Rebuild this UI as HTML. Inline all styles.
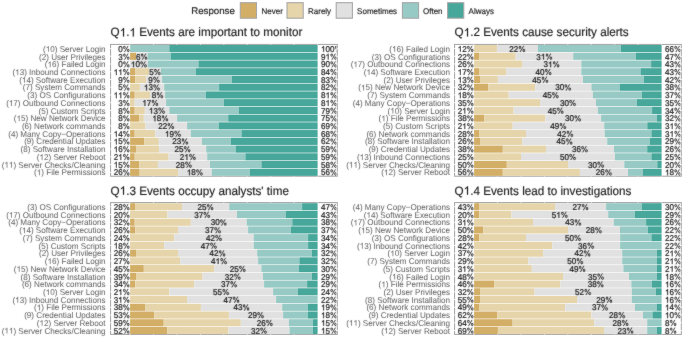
<!DOCTYPE html><html><head><meta charset="utf-8"><style>html,body{margin:0;padding:0;background:#fff;}svg{display:block;will-change:transform;}text{font-family:"Liberation Sans",sans-serif;text-rendering:geometricPrecision;font-kerning:none;font-feature-settings:"kern" 0;}.h1{fill-opacity:0;stroke-opacity:0}.lt,.lg,.tt{fill:#1A1A1A}.lb{fill:#5E5E5E}.pc{fill:#1A1A1A}.pc{stroke:#1a1a1a;stroke-width:0.22px}.lb{stroke:#5e5e5e;stroke-width:0.02px}.tt,.lg,.lt{stroke:#1a1a1a;stroke-width:0.16px}text,use{filter:url(#tb)}</style></head><body>
<svg width="685" height="337" viewBox="0 0 685 337">
<rect width="685" height="337" fill="#fff"/>
<defs><filter id="tb" x="-10%" y="-40%" width="120%" height="180%" color-interpolation-filters="sRGB"><feConvolveMatrix order="3" kernelMatrix="1 2 1 2 28 2 1 2 1" divisor="40" edgeMode="none"/></filter></defs>
<defs><path id="one1" vector-effect="non-scaling-stroke" d="M763 0H583V1098Q518 1039 412.5 979Q307 920 223 890V1057Q374 1125 487 1221Q600 1318 647 1409H763Z"/><path id="pct1" fill-rule="evenodd" vector-effect="non-scaling-stroke" d="M135 1075A285 345 0 1 0 705 1075A285 345 0 1 0 135 1075ZM280 1075A140 220 0 1 0 560 1075A140 220 0 1 0 280 1075ZM1115 335A285 345 0 1 0 1685 335A285 345 0 1 0 1115 335ZM1260 335A140 220 0 1 0 1540 335A140 220 0 1 0 1260 335ZM395 -20H545L1420 1425H1270Z"/></defs>
<text class="lt" x="191.2" y="13.9" font-size="9.7">Response</text>
<rect x="240.3" y="2.7" width="16.2" height="15.5" fill="#D3AE67" stroke="#A8A8A8" stroke-width="1.1"/>
<text class="lg" transform="matrix(1 0 0 1.04 261.5 13.9)" font-size="8">Never</text>
<rect x="287" y="2.7" width="16.2" height="15.5" fill="#E6D5AA" stroke="#A8A8A8" stroke-width="1.1"/>
<text class="lg" transform="matrix(1 0 0 1.04 308 13.9)" font-size="8">Rarely</text>
<rect x="336.2" y="2.7" width="16.2" height="15.5" fill="#E0E1E0" stroke="#A8A8A8" stroke-width="1.1"/>
<text class="lg" transform="matrix(1 0 0 1.04 357.1 13.9)" font-size="8">Sometimes</text>
<rect x="402.4" y="2.7" width="16.2" height="15.5" fill="#97CAC4" stroke="#A8A8A8" stroke-width="1.1"/>
<text class="lg" transform="matrix(1 0 0 1.04 423 13.9)" font-size="8">Often</text>
<rect x="447.6" y="2.7" width="16.2" height="15.5" fill="#47A79B" stroke="#A8A8A8" stroke-width="1.1"/>
<text class="lg" transform="matrix(1 0 0 1.04 468.6 13.9)" font-size="8">Always</text>
<g transform="translate(0,0)">
<text id="t1" class="tt" transform="matrix(1 0 0 1.04 110.6 36.45)" font-size="11.7">Q<tspan class="h1">1</tspan>.<tspan class="h1">1</tspan> Events are important to monitor</text><use href="#one1" class="tt" transform="matrix(0.00571 0 0 -0.00597 119.69 36.45)"/><use href="#one1" class="tt" transform="matrix(0.00571 0 0 -0.00597 129.46 36.45)"/>
<rect x="110.6" y="44.4" width="226.7" height="131.8" fill="#fff" stroke="#A3A3A3" stroke-width="1"/>
<line x1="130.1" y1="43.8" x2="130.1" y2="176.8" stroke="#fff" stroke-width="0.6"/>
<line x1="153.54" y1="43.8" x2="153.54" y2="176.8" stroke="#fff" stroke-width="0.6"/>
<line x1="176.97" y1="43.8" x2="176.97" y2="176.8" stroke="#fff" stroke-width="0.6"/>
<line x1="200.41" y1="43.8" x2="200.41" y2="176.8" stroke="#fff" stroke-width="0.6"/>
<line x1="223.85" y1="43.8" x2="223.85" y2="176.8" stroke="#fff" stroke-width="0.6"/>
<line x1="247.29" y1="43.8" x2="247.29" y2="176.8" stroke="#fff" stroke-width="0.6"/>
<line x1="270.73" y1="43.8" x2="270.73" y2="176.8" stroke="#fff" stroke-width="0.6"/>
<line x1="294.16" y1="43.8" x2="294.16" y2="176.8" stroke="#fff" stroke-width="0.6"/>
<line x1="317.6" y1="43.8" x2="317.6" y2="176.8" stroke="#fff" stroke-width="0.6"/>
<line x1="110" y1="48.55" x2="337.9" y2="48.55" stroke="#fff" stroke-width="0.9"/>
<line x1="110" y1="56.28" x2="337.9" y2="56.28" stroke="#fff" stroke-width="0.9"/>
<line x1="110" y1="64.02" x2="337.9" y2="64.02" stroke="#fff" stroke-width="0.9"/>
<line x1="110" y1="71.75" x2="337.9" y2="71.75" stroke="#fff" stroke-width="0.9"/>
<line x1="110" y1="79.49" x2="337.9" y2="79.49" stroke="#fff" stroke-width="0.9"/>
<line x1="110" y1="87.22" x2="337.9" y2="87.22" stroke="#fff" stroke-width="0.9"/>
<line x1="110" y1="94.96" x2="337.9" y2="94.96" stroke="#fff" stroke-width="0.9"/>
<line x1="110" y1="102.69" x2="337.9" y2="102.69" stroke="#fff" stroke-width="0.9"/>
<line x1="110" y1="110.43" x2="337.9" y2="110.43" stroke="#fff" stroke-width="0.9"/>
<line x1="110" y1="118.16" x2="337.9" y2="118.16" stroke="#fff" stroke-width="0.9"/>
<line x1="110" y1="125.89" x2="337.9" y2="125.89" stroke="#fff" stroke-width="0.9"/>
<line x1="110" y1="133.63" x2="337.9" y2="133.63" stroke="#fff" stroke-width="0.9"/>
<line x1="110" y1="141.36" x2="337.9" y2="141.36" stroke="#fff" stroke-width="0.9"/>
<line x1="110" y1="149.1" x2="337.9" y2="149.1" stroke="#fff" stroke-width="0.9"/>
<line x1="110" y1="156.83" x2="337.9" y2="156.83" stroke="#fff" stroke-width="0.9"/>
<line x1="110" y1="164.57" x2="337.9" y2="164.57" stroke="#fff" stroke-width="0.9"/>
<line x1="110" y1="172.3" x2="337.9" y2="172.3" stroke="#fff" stroke-width="0.9"/>
<rect x="130.1" y="44.99" width="39.2" height="7.12" fill="#97CAC4"/>
<rect x="169.3" y="44.99" width="148.3" height="7.12" fill="#47A79B"/>
<rect x="130.1" y="52.72" width="5.9" height="7.12" fill="#D3AE67"/>
<rect x="136" y="52.72" width="11.6" height="7.12" fill="#E0E1E0"/>
<rect x="147.6" y="52.72" width="23.1" height="7.12" fill="#97CAC4"/>
<rect x="170.7" y="52.72" width="146.9" height="7.12" fill="#47A79B"/>
<rect x="130.1" y="60.46" width="17.8" height="7.12" fill="#E0E1E0"/>
<rect x="147.9" y="60.46" width="50.6" height="7.12" fill="#97CAC4"/>
<rect x="198.5" y="60.46" width="119.1" height="7.12" fill="#47A79B"/>
<rect x="130.1" y="68.19" width="4.9" height="7.12" fill="#D3AE67"/>
<rect x="135" y="68.19" width="14.3" height="7.12" fill="#E6D5AA"/>
<rect x="149.3" y="68.19" width="11.6" height="7.12" fill="#E0E1E0"/>
<rect x="160.9" y="68.19" width="35.1" height="7.12" fill="#97CAC4"/>
<rect x="196" y="68.19" width="121.6" height="7.12" fill="#47A79B"/>
<rect x="130.1" y="75.93" width="5" height="7.12" fill="#D3AE67"/>
<rect x="135.1" y="75.93" width="11.1" height="7.12" fill="#E6D5AA"/>
<rect x="146.2" y="75.93" width="15.9" height="7.12" fill="#E0E1E0"/>
<rect x="162.1" y="75.93" width="69.9" height="7.12" fill="#97CAC4"/>
<rect x="232" y="75.93" width="85.6" height="7.12" fill="#47A79B"/>
<rect x="130.1" y="83.66" width="9.8" height="7.12" fill="#E6D5AA"/>
<rect x="139.9" y="83.66" width="24.3" height="7.12" fill="#E0E1E0"/>
<rect x="164.2" y="83.66" width="54.9" height="7.12" fill="#97CAC4"/>
<rect x="219.1" y="83.66" width="98.5" height="7.12" fill="#47A79B"/>
<rect x="130.1" y="91.4" width="4.6" height="7.12" fill="#D3AE67"/>
<rect x="134.7" y="91.4" width="15.4" height="7.12" fill="#E6D5AA"/>
<rect x="150.1" y="91.4" width="15" height="7.12" fill="#E0E1E0"/>
<rect x="165.1" y="91.4" width="40.7" height="7.12" fill="#97CAC4"/>
<rect x="205.8" y="91.4" width="111.8" height="7.12" fill="#47A79B"/>
<rect x="130.1" y="99.13" width="4.6" height="7.12" fill="#E6D5AA"/>
<rect x="134.7" y="99.13" width="31.4" height="7.12" fill="#E0E1E0"/>
<rect x="166.1" y="99.13" width="57.9" height="7.12" fill="#97CAC4"/>
<rect x="224" y="99.13" width="93.6" height="7.12" fill="#47A79B"/>
<rect x="130.1" y="106.87" width="4.6" height="7.12" fill="#D3AE67"/>
<rect x="134.7" y="106.87" width="10.1" height="7.12" fill="#E6D5AA"/>
<rect x="144.8" y="106.87" width="24.5" height="7.12" fill="#E0E1E0"/>
<rect x="169.3" y="106.87" width="69.4" height="7.12" fill="#97CAC4"/>
<rect x="238.7" y="106.87" width="78.9" height="7.12" fill="#47A79B"/>
<rect x="130.1" y="114.6" width="9.1" height="7.12" fill="#D3AE67"/>
<rect x="139.2" y="114.6" width="4.6" height="7.12" fill="#E6D5AA"/>
<rect x="143.8" y="114.6" width="33.3" height="7.12" fill="#E0E1E0"/>
<rect x="177.1" y="114.6" width="51.1" height="7.12" fill="#97CAC4"/>
<rect x="228.2" y="114.6" width="89.4" height="7.12" fill="#47A79B"/>
<rect x="130.1" y="122.33" width="15.4" height="7.12" fill="#E6D5AA"/>
<rect x="145.5" y="122.33" width="41.6" height="7.12" fill="#E0E1E0"/>
<rect x="187.1" y="122.33" width="31.7" height="7.12" fill="#97CAC4"/>
<rect x="218.8" y="122.33" width="98.8" height="7.12" fill="#47A79B"/>
<rect x="130.1" y="130.07" width="4.6" height="7.12" fill="#D3AE67"/>
<rect x="134.7" y="130.07" width="20.6" height="7.12" fill="#E6D5AA"/>
<rect x="155.3" y="130.07" width="35.5" height="7.12" fill="#E0E1E0"/>
<rect x="190.8" y="130.07" width="50.7" height="7.12" fill="#97CAC4"/>
<rect x="241.5" y="130.07" width="76.1" height="7.12" fill="#47A79B"/>
<rect x="130.1" y="137.8" width="14" height="7.12" fill="#D3AE67"/>
<rect x="144.1" y="137.8" width="14.7" height="7.12" fill="#E6D5AA"/>
<rect x="158.8" y="137.8" width="43.2" height="7.12" fill="#E0E1E0"/>
<rect x="202" y="137.8" width="29" height="7.12" fill="#97CAC4"/>
<rect x="231" y="137.8" width="86.6" height="7.12" fill="#47A79B"/>
<rect x="130.1" y="145.54" width="5.9" height="7.12" fill="#D3AE67"/>
<rect x="136" y="145.54" width="23.1" height="7.12" fill="#E6D5AA"/>
<rect x="159.1" y="145.54" width="47.1" height="7.12" fill="#E0E1E0"/>
<rect x="206.2" y="145.54" width="29.4" height="7.12" fill="#97CAC4"/>
<rect x="235.6" y="145.54" width="82" height="7.12" fill="#47A79B"/>
<rect x="130.1" y="153.27" width="4.6" height="7.12" fill="#D3AE67"/>
<rect x="134.7" y="153.27" width="33.9" height="7.12" fill="#E6D5AA"/>
<rect x="168.6" y="153.27" width="38.6" height="7.12" fill="#E0E1E0"/>
<rect x="207.2" y="153.27" width="38.2" height="7.12" fill="#97CAC4"/>
<rect x="245.4" y="153.27" width="72.2" height="7.12" fill="#47A79B"/>
<rect x="130.1" y="161.01" width="9.1" height="7.12" fill="#D3AE67"/>
<rect x="139.2" y="161.01" width="18.7" height="7.12" fill="#E6D5AA"/>
<rect x="157.9" y="161.01" width="52.1" height="7.12" fill="#E0E1E0"/>
<rect x="210" y="161.01" width="51.4" height="7.12" fill="#97CAC4"/>
<rect x="261.4" y="161.01" width="56.2" height="7.12" fill="#47A79B"/>
<rect x="130.1" y="168.74" width="9.5" height="7.12" fill="#D3AE67"/>
<rect x="139.6" y="168.74" width="38.4" height="7.12" fill="#E6D5AA"/>
<rect x="178" y="168.74" width="33.8" height="7.12" fill="#E0E1E0"/>
<rect x="211.8" y="168.74" width="38.1" height="7.12" fill="#97CAC4"/>
<rect x="249.9" y="168.74" width="67.7" height="7.12" fill="#47A79B"/>
<defs><clipPath id="cp0"><rect x="110.6" y="44.4" width="225.8" height="131.8"/></clipPath></defs>
<text id="t2" class="lb" transform="matrix(1 0 0 1.04 105.6 51.85)" font-size="8.1" text-anchor="end">(<tspan class="h1">1</tspan>0) Server Login</text><use href="#one1" class="lb" transform="matrix(0.00396 0 0 -0.00413 45.74 51.85)"/>
<g clip-path="url(#cp0)">
<text id="t3" class="pc" transform="matrix(1 0 0 1.05 129.9 51.85)" font-size="8.1" text-anchor="end">0<tspan class="h1">%</tspan></text><use href="#pct1" class="pc" transform="matrix(0.00396 0 0 -0.00415 122.7 51.85)"/>
<text id="t4" class="pc" transform="matrix(1 0 0 1.05 321 51.85)" font-size="8.1"><tspan class="h1">1</tspan>00<tspan class="h1">%</tspan></text><use href="#one1" class="pc" transform="matrix(0.00396 0 0 -0.00415 321 51.85)"/><use href="#pct1" class="pc" transform="matrix(0.00396 0 0 -0.00415 334.53 51.85)"/>
</g>
<text class="lb" transform="matrix(1 0 0 1.04 105.6 59.57)" font-size="8.1" text-anchor="end">(2) User Privileges</text>
<g clip-path="url(#cp0)">
<text id="t5" class="pc" transform="matrix(1 0 0 1.05 129.9 59.57)" font-size="8.1" text-anchor="end">3<tspan class="h1">%</tspan></text><use href="#pct1" class="pc" transform="matrix(0.00396 0 0 -0.00415 122.7 59.57)"/>
<text id="t6" class="pc" transform="matrix(1 0 0 1.05 141.8 59.57)" font-size="8.1" text-anchor="middle">6<tspan class="h1">%</tspan></text><use href="#pct1" class="pc" transform="matrix(0.00396 0 0 -0.00415 140.46 59.57)"/>
<text id="t7" class="pc" transform="matrix(1 0 0 1.05 321 59.57)" font-size="8.1">9<tspan class="h1">1</tspan><tspan class="h1">%</tspan></text><use href="#one1" class="pc" transform="matrix(0.00396 0 0 -0.00415 325.52 59.57)"/><use href="#pct1" class="pc" transform="matrix(0.00396 0 0 -0.00415 330.03 59.57)"/>
</g>
<text id="t8" class="lb" transform="matrix(1 0 0 1.04 105.6 67.29)" font-size="8.1" text-anchor="end">(<tspan class="h1">1</tspan>6) Failed Login</text><use href="#one1" class="lb" transform="matrix(0.00396 0 0 -0.00413 47.54 67.29)"/>
<g clip-path="url(#cp0)">
<text id="t9" class="pc" transform="matrix(1 0 0 1.05 129.9 67.29)" font-size="8.1" text-anchor="end">0<tspan class="h1">%</tspan></text><use href="#pct1" class="pc" transform="matrix(0.00396 0 0 -0.00415 122.7 67.29)"/>
<text id="t10" class="pc" transform="matrix(1 0 0 1.05 139 67.29)" font-size="8.1" text-anchor="middle"><tspan class="h1">1</tspan>0<tspan class="h1">%</tspan></text><use href="#one1" class="pc" transform="matrix(0.00396 0 0 -0.00415 130.88 67.29)"/><use href="#pct1" class="pc" transform="matrix(0.00396 0 0 -0.00415 139.91 67.29)"/>
<text id="t11" class="pc" transform="matrix(1 0 0 1.05 321 67.29)" font-size="8.1">90<tspan class="h1">%</tspan></text><use href="#pct1" class="pc" transform="matrix(0.00396 0 0 -0.00415 330.02 67.29)"/>
</g>
<text id="t12" class="lb" transform="matrix(1 0 0 1.04 105.6 75.01)" font-size="8.1" text-anchor="end">(<tspan class="h1">1</tspan>3) Inbound Connections</text><use href="#one1" class="lb" transform="matrix(0.00396 0 0 -0.00413 15.13 75.01)"/>
<g clip-path="url(#cp0)">
<text id="t13" class="pc" transform="matrix(1 0 0 1.05 129.9 75.01)" font-size="8.1" text-anchor="end"><tspan class="h1">1</tspan><tspan class="h1">1</tspan><tspan class="h1">%</tspan></text><use href="#one1" class="pc" transform="matrix(0.00396 0 0 -0.00415 113.67 75.01)"/><use href="#one1" class="pc" transform="matrix(0.00396 0 0 -0.00415 118.18 75.01)"/><use href="#pct1" class="pc" transform="matrix(0.00396 0 0 -0.00415 122.7 75.01)"/>
<text id="t14" class="pc" transform="matrix(1 0 0 1.05 155.1 75.01)" font-size="8.1" text-anchor="middle">5<tspan class="h1">%</tspan></text><use href="#pct1" class="pc" transform="matrix(0.00396 0 0 -0.00415 153.76 75.01)"/>
<text id="t15" class="pc" transform="matrix(1 0 0 1.05 321 75.01)" font-size="8.1">84<tspan class="h1">%</tspan></text><use href="#pct1" class="pc" transform="matrix(0.00396 0 0 -0.00415 330.02 75.01)"/>
</g>
<text id="t16" class="lb" transform="matrix(1 0 0 1.04 105.6 82.73)" font-size="8.1" text-anchor="end">(<tspan class="h1">1</tspan>4) Software Execution</text><use href="#one1" class="lb" transform="matrix(0.00396 0 0 -0.00413 21.9 82.73)"/>
<g clip-path="url(#cp0)">
<text id="t17" class="pc" transform="matrix(1 0 0 1.05 129.9 82.73)" font-size="8.1" text-anchor="end">9<tspan class="h1">%</tspan></text><use href="#pct1" class="pc" transform="matrix(0.00396 0 0 -0.00415 122.7 82.73)"/>
<text id="t18" class="pc" transform="matrix(1 0 0 1.05 154.15 82.73)" font-size="8.1" text-anchor="middle">9<tspan class="h1">%</tspan></text><use href="#pct1" class="pc" transform="matrix(0.00396 0 0 -0.00415 152.81 82.73)"/>
<text id="t19" class="pc" transform="matrix(1 0 0 1.05 321 82.73)" font-size="8.1">83<tspan class="h1">%</tspan></text><use href="#pct1" class="pc" transform="matrix(0.00396 0 0 -0.00415 330.02 82.73)"/>
</g>
<text class="lb" transform="matrix(1 0 0 1.04 105.6 90.45)" font-size="8.1" text-anchor="end">(7) System Commands</text>
<g clip-path="url(#cp0)">
<text id="t20" class="pc" transform="matrix(1 0 0 1.05 129.9 90.45)" font-size="8.1" text-anchor="end">5<tspan class="h1">%</tspan></text><use href="#pct1" class="pc" transform="matrix(0.00396 0 0 -0.00415 122.7 90.45)"/>
<text id="t21" class="pc" transform="matrix(1 0 0 1.05 152.05 90.45)" font-size="8.1" text-anchor="middle"><tspan class="h1">1</tspan>3<tspan class="h1">%</tspan></text><use href="#one1" class="pc" transform="matrix(0.00396 0 0 -0.00415 143.93 90.45)"/><use href="#pct1" class="pc" transform="matrix(0.00396 0 0 -0.00415 152.96 90.45)"/>
<text id="t22" class="pc" transform="matrix(1 0 0 1.05 321 90.45)" font-size="8.1">82<tspan class="h1">%</tspan></text><use href="#pct1" class="pc" transform="matrix(0.00396 0 0 -0.00415 330.02 90.45)"/>
</g>
<text class="lb" transform="matrix(1 0 0 1.04 105.6 98.17)" font-size="8.1" text-anchor="end">(3) OS Configurations</text>
<g clip-path="url(#cp0)">
<text id="t23" class="pc" transform="matrix(1 0 0 1.05 129.9 98.17)" font-size="8.1" text-anchor="end"><tspan class="h1">1</tspan><tspan class="h1">1</tspan><tspan class="h1">%</tspan></text><use href="#one1" class="pc" transform="matrix(0.00396 0 0 -0.00415 113.67 98.17)"/><use href="#one1" class="pc" transform="matrix(0.00396 0 0 -0.00415 118.18 98.17)"/><use href="#pct1" class="pc" transform="matrix(0.00396 0 0 -0.00415 122.7 98.17)"/>
<text id="t24" class="pc" transform="matrix(1 0 0 1.05 157.6 98.17)" font-size="8.1" text-anchor="middle">8<tspan class="h1">%</tspan></text><use href="#pct1" class="pc" transform="matrix(0.00396 0 0 -0.00415 156.26 98.17)"/>
<text id="t25" class="pc" transform="matrix(1 0 0 1.05 321 98.17)" font-size="8.1">8<tspan class="h1">1</tspan><tspan class="h1">%</tspan></text><use href="#one1" class="pc" transform="matrix(0.00396 0 0 -0.00415 325.52 98.17)"/><use href="#pct1" class="pc" transform="matrix(0.00396 0 0 -0.00415 330.03 98.17)"/>
</g>
<text id="t26" class="lb" transform="matrix(1 0 0 1.04 105.6 105.89)" font-size="8.1" text-anchor="end">(<tspan class="h1">1</tspan>7) Outbound Connections</text><use href="#one1" class="lb" transform="matrix(0.00396 0 0 -0.00413 8.83 105.89)"/>
<g clip-path="url(#cp0)">
<text id="t27" class="pc" transform="matrix(1 0 0 1.05 129.9 105.89)" font-size="8.1" text-anchor="end">3<tspan class="h1">%</tspan></text><use href="#pct1" class="pc" transform="matrix(0.00396 0 0 -0.00415 122.7 105.89)"/>
<text id="t28" class="pc" transform="matrix(1 0 0 1.05 150.4 105.89)" font-size="8.1" text-anchor="middle"><tspan class="h1">1</tspan>7<tspan class="h1">%</tspan></text><use href="#one1" class="pc" transform="matrix(0.00396 0 0 -0.00415 142.28 105.89)"/><use href="#pct1" class="pc" transform="matrix(0.00396 0 0 -0.00415 151.31 105.89)"/>
<text id="t29" class="pc" transform="matrix(1 0 0 1.05 321 105.89)" font-size="8.1">8<tspan class="h1">1</tspan><tspan class="h1">%</tspan></text><use href="#one1" class="pc" transform="matrix(0.00396 0 0 -0.00415 325.52 105.89)"/><use href="#pct1" class="pc" transform="matrix(0.00396 0 0 -0.00415 330.03 105.89)"/>
</g>
<text class="lb" transform="matrix(1 0 0 1.04 105.6 113.61)" font-size="8.1" text-anchor="end">(5) Custom Scripts</text>
<g clip-path="url(#cp0)">
<text id="t30" class="pc" transform="matrix(1 0 0 1.05 129.9 113.61)" font-size="8.1" text-anchor="end">8<tspan class="h1">%</tspan></text><use href="#pct1" class="pc" transform="matrix(0.00396 0 0 -0.00415 122.7 113.61)"/>
<text id="t31" class="pc" transform="matrix(1 0 0 1.05 157.05 113.61)" font-size="8.1" text-anchor="middle"><tspan class="h1">1</tspan>3<tspan class="h1">%</tspan></text><use href="#one1" class="pc" transform="matrix(0.00396 0 0 -0.00415 148.93 113.61)"/><use href="#pct1" class="pc" transform="matrix(0.00396 0 0 -0.00415 157.96 113.61)"/>
<text id="t32" class="pc" transform="matrix(1 0 0 1.05 321 113.61)" font-size="8.1">79<tspan class="h1">%</tspan></text><use href="#pct1" class="pc" transform="matrix(0.00396 0 0 -0.00415 330.02 113.61)"/>
</g>
<text id="t33" class="lb" transform="matrix(1 0 0 1.04 105.6 121.33)" font-size="8.1" text-anchor="end">(<tspan class="h1">1</tspan>5) New Network Device</text><use href="#one1" class="lb" transform="matrix(0.00396 0 0 -0.00413 16.52 121.33)"/>
<g clip-path="url(#cp0)">
<text id="t34" class="pc" transform="matrix(1 0 0 1.05 129.9 121.33)" font-size="8.1" text-anchor="end">8<tspan class="h1">%</tspan></text><use href="#pct1" class="pc" transform="matrix(0.00396 0 0 -0.00415 122.7 121.33)"/>
<text id="t35" class="pc" transform="matrix(1 0 0 1.05 160.45 121.33)" font-size="8.1" text-anchor="middle"><tspan class="h1">1</tspan>8<tspan class="h1">%</tspan></text><use href="#one1" class="pc" transform="matrix(0.00396 0 0 -0.00415 152.33 121.33)"/><use href="#pct1" class="pc" transform="matrix(0.00396 0 0 -0.00415 161.36 121.33)"/>
<text id="t36" class="pc" transform="matrix(1 0 0 1.05 321 121.33)" font-size="8.1">75<tspan class="h1">%</tspan></text><use href="#pct1" class="pc" transform="matrix(0.00396 0 0 -0.00415 330.02 121.33)"/>
</g>
<text class="lb" transform="matrix(1 0 0 1.04 105.6 129.05)" font-size="8.1" text-anchor="end">(6) Network commands</text>
<g clip-path="url(#cp0)">
<text id="t37" class="pc" transform="matrix(1 0 0 1.05 129.9 129.05)" font-size="8.1" text-anchor="end">8<tspan class="h1">%</tspan></text><use href="#pct1" class="pc" transform="matrix(0.00396 0 0 -0.00415 122.7 129.05)"/>
<text id="t38" class="pc" transform="matrix(1 0 0 1.05 166.3 129.05)" font-size="8.1" text-anchor="middle">22<tspan class="h1">%</tspan></text><use href="#pct1" class="pc" transform="matrix(0.00396 0 0 -0.00415 167.21 129.05)"/>
<text id="t39" class="pc" transform="matrix(1 0 0 1.05 321 129.05)" font-size="8.1">69<tspan class="h1">%</tspan></text><use href="#pct1" class="pc" transform="matrix(0.00396 0 0 -0.00415 330.02 129.05)"/>
</g>
<text class="lb" transform="matrix(1 0 0 1.04 105.6 136.77)" font-size="8.1" text-anchor="end">(4) Many Copy−Operations</text>
<g clip-path="url(#cp0)">
<text id="t40" class="pc" transform="matrix(1 0 0 1.05 129.9 136.77)" font-size="8.1" text-anchor="end"><tspan class="h1">1</tspan>4<tspan class="h1">%</tspan></text><use href="#one1" class="pc" transform="matrix(0.00396 0 0 -0.00415 113.67 136.77)"/><use href="#pct1" class="pc" transform="matrix(0.00396 0 0 -0.00415 122.7 136.77)"/>
<text id="t41" class="pc" transform="matrix(1 0 0 1.05 173.05 136.77)" font-size="8.1" text-anchor="middle"><tspan class="h1">1</tspan>9<tspan class="h1">%</tspan></text><use href="#one1" class="pc" transform="matrix(0.00396 0 0 -0.00415 164.93 136.77)"/><use href="#pct1" class="pc" transform="matrix(0.00396 0 0 -0.00415 173.96 136.77)"/>
<text id="t42" class="pc" transform="matrix(1 0 0 1.05 321 136.77)" font-size="8.1">68<tspan class="h1">%</tspan></text><use href="#pct1" class="pc" transform="matrix(0.00396 0 0 -0.00415 330.02 136.77)"/>
</g>
<text class="lb" transform="matrix(1 0 0 1.04 105.6 144.49)" font-size="8.1" text-anchor="end">(9) Credential Updates</text>
<g clip-path="url(#cp0)">
<text id="t43" class="pc" transform="matrix(1 0 0 1.05 129.9 144.49)" font-size="8.1" text-anchor="end"><tspan class="h1">1</tspan>5<tspan class="h1">%</tspan></text><use href="#one1" class="pc" transform="matrix(0.00396 0 0 -0.00415 113.67 144.49)"/><use href="#pct1" class="pc" transform="matrix(0.00396 0 0 -0.00415 122.7 144.49)"/>
<text id="t44" class="pc" transform="matrix(1 0 0 1.05 180.4 144.49)" font-size="8.1" text-anchor="middle">23<tspan class="h1">%</tspan></text><use href="#pct1" class="pc" transform="matrix(0.00396 0 0 -0.00415 181.31 144.49)"/>
<text id="t45" class="pc" transform="matrix(1 0 0 1.05 321 144.49)" font-size="8.1">62<tspan class="h1">%</tspan></text><use href="#pct1" class="pc" transform="matrix(0.00396 0 0 -0.00415 330.02 144.49)"/>
</g>
<text class="lb" transform="matrix(1 0 0 1.04 105.6 152.21)" font-size="8.1" text-anchor="end">(8) Software Installation</text>
<g clip-path="url(#cp0)">
<text id="t46" class="pc" transform="matrix(1 0 0 1.05 129.9 152.21)" font-size="8.1" text-anchor="end"><tspan class="h1">1</tspan>6<tspan class="h1">%</tspan></text><use href="#one1" class="pc" transform="matrix(0.00396 0 0 -0.00415 113.67 152.21)"/><use href="#pct1" class="pc" transform="matrix(0.00396 0 0 -0.00415 122.7 152.21)"/>
<text id="t47" class="pc" transform="matrix(1 0 0 1.05 182.65 152.21)" font-size="8.1" text-anchor="middle">25<tspan class="h1">%</tspan></text><use href="#pct1" class="pc" transform="matrix(0.00396 0 0 -0.00415 183.56 152.21)"/>
<text id="t48" class="pc" transform="matrix(1 0 0 1.05 321 152.21)" font-size="8.1">59<tspan class="h1">%</tspan></text><use href="#pct1" class="pc" transform="matrix(0.00396 0 0 -0.00415 330.02 152.21)"/>
</g>
<text id="t49" class="lb" transform="matrix(1 0 0 1.04 105.6 159.93)" font-size="8.1" text-anchor="end">(<tspan class="h1">1</tspan>2) Server Reboot</text><use href="#one1" class="lb" transform="matrix(0.00396 0 0 -0.00413 39.44 159.93)"/>
<g clip-path="url(#cp0)">
<text id="t50" class="pc" transform="matrix(1 0 0 1.05 129.9 159.93)" font-size="8.1" text-anchor="end">2<tspan class="h1">1</tspan><tspan class="h1">%</tspan></text><use href="#one1" class="pc" transform="matrix(0.00396 0 0 -0.00415 118.18 159.93)"/><use href="#pct1" class="pc" transform="matrix(0.00396 0 0 -0.00415 122.7 159.93)"/>
<text id="t51" class="pc" transform="matrix(1 0 0 1.05 187.9 159.93)" font-size="8.1" text-anchor="middle">2<tspan class="h1">1</tspan><tspan class="h1">%</tspan></text><use href="#one1" class="pc" transform="matrix(0.00396 0 0 -0.00415 184.3 159.93)"/><use href="#pct1" class="pc" transform="matrix(0.00396 0 0 -0.00415 188.81 159.93)"/>
<text id="t52" class="pc" transform="matrix(1 0 0 1.05 321 159.93)" font-size="8.1">59<tspan class="h1">%</tspan></text><use href="#pct1" class="pc" transform="matrix(0.00396 0 0 -0.00415 330.02 159.93)"/>
</g>
<text id="t53" class="lb" transform="matrix(1 0 0 1.04 105.6 167.65)" font-size="8.1" text-anchor="end">(<tspan class="h1">1</tspan><tspan class="h1">1</tspan>) Server Checks/Cleaning</text><use href="#one1" class="lb" transform="matrix(0.00396 0 0 -0.00413 4.35 167.65)"/><use href="#one1" class="lb" transform="matrix(0.00396 0 0 -0.00413 8.87 167.65)"/>
<g clip-path="url(#cp0)">
<text id="t54" class="pc" transform="matrix(1 0 0 1.05 129.9 167.65)" font-size="8.1" text-anchor="end"><tspan class="h1">1</tspan>5<tspan class="h1">%</tspan></text><use href="#one1" class="pc" transform="matrix(0.00396 0 0 -0.00415 113.67 167.65)"/><use href="#pct1" class="pc" transform="matrix(0.00396 0 0 -0.00415 122.7 167.65)"/>
<text id="t55" class="pc" transform="matrix(1 0 0 1.05 183.95 167.65)" font-size="8.1" text-anchor="middle">28<tspan class="h1">%</tspan></text><use href="#pct1" class="pc" transform="matrix(0.00396 0 0 -0.00415 184.86 167.65)"/>
<text id="t56" class="pc" transform="matrix(1 0 0 1.05 321 167.65)" font-size="8.1">58<tspan class="h1">%</tspan></text><use href="#pct1" class="pc" transform="matrix(0.00396 0 0 -0.00415 330.02 167.65)"/>
</g>
<text id="t57" class="lb" transform="matrix(1 0 0 1.04 105.6 175.37)" font-size="8.1" text-anchor="end">(<tspan class="h1">1</tspan>) File Permissions</text><use href="#one1" class="lb" transform="matrix(0.00396 0 0 -0.00413 36.77 175.37)"/>
<g clip-path="url(#cp0)">
<text id="t58" class="pc" transform="matrix(1 0 0 1.05 129.9 175.37)" font-size="8.1" text-anchor="end">26<tspan class="h1">%</tspan></text><use href="#pct1" class="pc" transform="matrix(0.00396 0 0 -0.00415 122.7 175.37)"/>
<text id="t59" class="pc" transform="matrix(1 0 0 1.05 194.9 175.37)" font-size="8.1" text-anchor="middle"><tspan class="h1">1</tspan>8<tspan class="h1">%</tspan></text><use href="#one1" class="pc" transform="matrix(0.00396 0 0 -0.00415 186.78 175.37)"/><use href="#pct1" class="pc" transform="matrix(0.00396 0 0 -0.00415 195.81 175.37)"/>
<text id="t60" class="pc" transform="matrix(1 0 0 1.05 321 175.37)" font-size="8.1">56<tspan class="h1">%</tspan></text><use href="#pct1" class="pc" transform="matrix(0.00396 0 0 -0.00415 330.02 175.37)"/>
</g>
</g>
<g transform="translate(344,0)">
<text id="t61" class="tt" transform="matrix(1 0 0 1.04 110.6 36.45)" font-size="11.7">Q<tspan class="h1">1</tspan>.2 Events cause security alerts</text><use href="#one1" class="tt" transform="matrix(0.00571 0 0 -0.00597 119.69 36.45)"/>
<rect x="110.6" y="44.4" width="226.7" height="131.8" fill="#fff" stroke="#A3A3A3" stroke-width="1"/>
<line x1="130.1" y1="43.8" x2="130.1" y2="176.8" stroke="#fff" stroke-width="0.6"/>
<line x1="153.54" y1="43.8" x2="153.54" y2="176.8" stroke="#fff" stroke-width="0.6"/>
<line x1="176.97" y1="43.8" x2="176.97" y2="176.8" stroke="#fff" stroke-width="0.6"/>
<line x1="200.41" y1="43.8" x2="200.41" y2="176.8" stroke="#fff" stroke-width="0.6"/>
<line x1="223.85" y1="43.8" x2="223.85" y2="176.8" stroke="#fff" stroke-width="0.6"/>
<line x1="247.29" y1="43.8" x2="247.29" y2="176.8" stroke="#fff" stroke-width="0.6"/>
<line x1="270.73" y1="43.8" x2="270.73" y2="176.8" stroke="#fff" stroke-width="0.6"/>
<line x1="294.16" y1="43.8" x2="294.16" y2="176.8" stroke="#fff" stroke-width="0.6"/>
<line x1="317.6" y1="43.8" x2="317.6" y2="176.8" stroke="#fff" stroke-width="0.6"/>
<line x1="110" y1="48.55" x2="337.9" y2="48.55" stroke="#fff" stroke-width="0.9"/>
<line x1="110" y1="56.28" x2="337.9" y2="56.28" stroke="#fff" stroke-width="0.9"/>
<line x1="110" y1="64.02" x2="337.9" y2="64.02" stroke="#fff" stroke-width="0.9"/>
<line x1="110" y1="71.75" x2="337.9" y2="71.75" stroke="#fff" stroke-width="0.9"/>
<line x1="110" y1="79.49" x2="337.9" y2="79.49" stroke="#fff" stroke-width="0.9"/>
<line x1="110" y1="87.22" x2="337.9" y2="87.22" stroke="#fff" stroke-width="0.9"/>
<line x1="110" y1="94.96" x2="337.9" y2="94.96" stroke="#fff" stroke-width="0.9"/>
<line x1="110" y1="102.69" x2="337.9" y2="102.69" stroke="#fff" stroke-width="0.9"/>
<line x1="110" y1="110.43" x2="337.9" y2="110.43" stroke="#fff" stroke-width="0.9"/>
<line x1="110" y1="118.16" x2="337.9" y2="118.16" stroke="#fff" stroke-width="0.9"/>
<line x1="110" y1="125.89" x2="337.9" y2="125.89" stroke="#fff" stroke-width="0.9"/>
<line x1="110" y1="133.63" x2="337.9" y2="133.63" stroke="#fff" stroke-width="0.9"/>
<line x1="110" y1="141.36" x2="337.9" y2="141.36" stroke="#fff" stroke-width="0.9"/>
<line x1="110" y1="149.1" x2="337.9" y2="149.1" stroke="#fff" stroke-width="0.9"/>
<line x1="110" y1="156.83" x2="337.9" y2="156.83" stroke="#fff" stroke-width="0.9"/>
<line x1="110" y1="164.57" x2="337.9" y2="164.57" stroke="#fff" stroke-width="0.9"/>
<line x1="110" y1="172.3" x2="337.9" y2="172.3" stroke="#fff" stroke-width="0.9"/>
<rect x="130.1" y="44.99" width="22.8" height="7.12" fill="#E6D5AA"/>
<rect x="152.9" y="44.99" width="41" height="7.12" fill="#E0E1E0"/>
<rect x="193.9" y="44.99" width="82.9" height="7.12" fill="#97CAC4"/>
<rect x="276.8" y="44.99" width="40.8" height="7.12" fill="#47A79B"/>
<rect x="130.1" y="52.72" width="4.9" height="7.12" fill="#D3AE67"/>
<rect x="135" y="52.72" width="36.7" height="7.12" fill="#E6D5AA"/>
<rect x="171.7" y="52.72" width="57.5" height="7.12" fill="#E0E1E0"/>
<rect x="229.2" y="52.72" width="62.8" height="7.12" fill="#97CAC4"/>
<rect x="292" y="52.72" width="25.6" height="7.12" fill="#47A79B"/>
<rect x="130.1" y="60.46" width="47.9" height="7.12" fill="#E6D5AA"/>
<rect x="178" y="60.46" width="59.3" height="7.12" fill="#E0E1E0"/>
<rect x="237.3" y="60.46" width="69.8" height="7.12" fill="#97CAC4"/>
<rect x="307.1" y="60.46" width="10.5" height="7.12" fill="#47A79B"/>
<rect x="130.1" y="68.19" width="4.9" height="7.12" fill="#D3AE67"/>
<rect x="135" y="68.19" width="27.1" height="7.12" fill="#E6D5AA"/>
<rect x="162.1" y="68.19" width="75.2" height="7.12" fill="#E0E1E0"/>
<rect x="237.3" y="68.19" width="59.2" height="7.12" fill="#97CAC4"/>
<rect x="296.5" y="68.19" width="21.1" height="7.12" fill="#47A79B"/>
<rect x="130.1" y="75.93" width="5.9" height="7.12" fill="#D3AE67"/>
<rect x="136" y="75.93" width="17.9" height="7.12" fill="#E6D5AA"/>
<rect x="153.9" y="75.93" width="85.1" height="7.12" fill="#E0E1E0"/>
<rect x="239" y="75.93" width="60.8" height="7.12" fill="#97CAC4"/>
<rect x="299.8" y="75.93" width="17.8" height="7.12" fill="#47A79B"/>
<rect x="130.1" y="83.66" width="14" height="7.12" fill="#D3AE67"/>
<rect x="144.1" y="83.66" width="47" height="7.12" fill="#E6D5AA"/>
<rect x="191.1" y="83.66" width="56.3" height="7.12" fill="#E0E1E0"/>
<rect x="247.4" y="83.66" width="28.2" height="7.12" fill="#97CAC4"/>
<rect x="275.6" y="83.66" width="42" height="7.12" fill="#47A79B"/>
<rect x="130.1" y="91.4" width="34.6" height="7.12" fill="#E6D5AA"/>
<rect x="164.7" y="91.4" width="84.2" height="7.12" fill="#E0E1E0"/>
<rect x="248.9" y="91.4" width="49.1" height="7.12" fill="#97CAC4"/>
<rect x="298" y="91.4" width="19.6" height="7.12" fill="#47A79B"/>
<rect x="130.1" y="99.13" width="65.9" height="7.12" fill="#E6D5AA"/>
<rect x="196" y="99.13" width="56" height="7.12" fill="#E0E1E0"/>
<rect x="252" y="99.13" width="40.7" height="7.12" fill="#97CAC4"/>
<rect x="292.7" y="99.13" width="24.9" height="7.12" fill="#47A79B"/>
<rect x="130.1" y="106.87" width="39.5" height="7.12" fill="#E6D5AA"/>
<rect x="169.6" y="106.87" width="84.3" height="7.12" fill="#E0E1E0"/>
<rect x="253.9" y="106.87" width="54.2" height="7.12" fill="#97CAC4"/>
<rect x="308.1" y="106.87" width="9.5" height="7.12" fill="#47A79B"/>
<rect x="130.1" y="114.6" width="10.1" height="7.12" fill="#D3AE67"/>
<rect x="140.2" y="114.6" width="61" height="7.12" fill="#E6D5AA"/>
<rect x="201.2" y="114.6" width="55.9" height="7.12" fill="#E0E1E0"/>
<rect x="257.1" y="114.6" width="55.9" height="7.12" fill="#97CAC4"/>
<rect x="313" y="114.6" width="4.6" height="7.12" fill="#47A79B"/>
<rect x="130.1" y="122.33" width="38.5" height="7.12" fill="#E6D5AA"/>
<rect x="168.6" y="122.33" width="91.6" height="7.12" fill="#E0E1E0"/>
<rect x="260.2" y="122.33" width="43.1" height="7.12" fill="#97CAC4"/>
<rect x="303.3" y="122.33" width="14.3" height="7.12" fill="#47A79B"/>
<rect x="130.1" y="130.07" width="4.9" height="7.12" fill="#D3AE67"/>
<rect x="135" y="130.07" width="47" height="7.12" fill="#E6D5AA"/>
<rect x="182" y="130.07" width="78.7" height="7.12" fill="#E0E1E0"/>
<rect x="260.7" y="130.07" width="46.7" height="7.12" fill="#97CAC4"/>
<rect x="307.4" y="130.07" width="10.2" height="7.12" fill="#47A79B"/>
<rect x="130.1" y="137.8" width="5.9" height="7.12" fill="#D3AE67"/>
<rect x="136" y="137.8" width="42.2" height="7.12" fill="#E6D5AA"/>
<rect x="178.2" y="137.8" width="85" height="7.12" fill="#E0E1E0"/>
<rect x="263.2" y="137.8" width="42.8" height="7.12" fill="#97CAC4"/>
<rect x="306" y="137.8" width="11.6" height="7.12" fill="#47A79B"/>
<rect x="130.1" y="145.54" width="28.7" height="7.12" fill="#D3AE67"/>
<rect x="158.8" y="145.54" width="43.2" height="7.12" fill="#E6D5AA"/>
<rect x="202" y="145.54" width="68" height="7.12" fill="#E0E1E0"/>
<rect x="270" y="145.54" width="33.2" height="7.12" fill="#97CAC4"/>
<rect x="303.2" y="145.54" width="14.4" height="7.12" fill="#47A79B"/>
<rect x="130.1" y="153.27" width="46.9" height="7.12" fill="#E6D5AA"/>
<rect x="177" y="153.27" width="94" height="7.12" fill="#E0E1E0"/>
<rect x="271" y="153.27" width="36.4" height="7.12" fill="#97CAC4"/>
<rect x="307.4" y="153.27" width="10.2" height="7.12" fill="#47A79B"/>
<rect x="130.1" y="161.01" width="32.7" height="7.12" fill="#D3AE67"/>
<rect x="162.8" y="161.01" width="61.2" height="7.12" fill="#E6D5AA"/>
<rect x="224" y="161.01" width="56.3" height="7.12" fill="#E0E1E0"/>
<rect x="280.3" y="161.01" width="33" height="7.12" fill="#97CAC4"/>
<rect x="313.3" y="161.01" width="4.3" height="7.12" fill="#47A79B"/>
<rect x="130.1" y="168.74" width="28.7" height="7.12" fill="#D3AE67"/>
<rect x="158.8" y="168.74" width="77.1" height="7.12" fill="#E6D5AA"/>
<rect x="235.9" y="168.74" width="48.1" height="7.12" fill="#E0E1E0"/>
<rect x="284" y="168.74" width="14.7" height="7.12" fill="#97CAC4"/>
<rect x="298.7" y="168.74" width="18.9" height="7.12" fill="#47A79B"/>
<defs><clipPath id="cp1"><rect x="110.6" y="44.4" width="225.8" height="131.8"/></clipPath></defs>
<text id="t62" class="lb" transform="matrix(1 0 0 1.04 106.1 51.85)" font-size="8.1" text-anchor="end">(<tspan class="h1">1</tspan>6) Failed Login</text><use href="#one1" class="lb" transform="matrix(0.00396 0 0 -0.00413 48.04 51.85)"/>
<g clip-path="url(#cp1)">
<text id="t63" class="pc" transform="matrix(1 0 0 1.05 129.9 51.85)" font-size="8.1" text-anchor="end"><tspan class="h1">1</tspan>2<tspan class="h1">%</tspan></text><use href="#one1" class="pc" transform="matrix(0.00396 0 0 -0.00415 113.67 51.85)"/><use href="#pct1" class="pc" transform="matrix(0.00396 0 0 -0.00415 122.7 51.85)"/>
<text id="t64" class="pc" transform="matrix(1 0 0 1.05 173.4 51.85)" font-size="8.1" text-anchor="middle">22<tspan class="h1">%</tspan></text><use href="#pct1" class="pc" transform="matrix(0.00396 0 0 -0.00415 174.31 51.85)"/>
<text id="t65" class="pc" transform="matrix(1 0 0 1.05 321 51.85)" font-size="8.1">66<tspan class="h1">%</tspan></text><use href="#pct1" class="pc" transform="matrix(0.00396 0 0 -0.00415 330.02 51.85)"/>
</g>
<text class="lb" transform="matrix(1 0 0 1.04 106.1 59.57)" font-size="8.1" text-anchor="end">(3) OS Configurations</text>
<g clip-path="url(#cp1)">
<text id="t66" class="pc" transform="matrix(1 0 0 1.05 129.9 59.57)" font-size="8.1" text-anchor="end">22<tspan class="h1">%</tspan></text><use href="#pct1" class="pc" transform="matrix(0.00396 0 0 -0.00415 122.7 59.57)"/>
<text id="t67" class="pc" transform="matrix(1 0 0 1.05 200.45 59.57)" font-size="8.1" text-anchor="middle">3<tspan class="h1">1</tspan><tspan class="h1">%</tspan></text><use href="#one1" class="pc" transform="matrix(0.00396 0 0 -0.00415 196.85 59.57)"/><use href="#pct1" class="pc" transform="matrix(0.00396 0 0 -0.00415 201.36 59.57)"/>
<text id="t68" class="pc" transform="matrix(1 0 0 1.05 321 59.57)" font-size="8.1">47<tspan class="h1">%</tspan></text><use href="#pct1" class="pc" transform="matrix(0.00396 0 0 -0.00415 330.02 59.57)"/>
</g>
<text id="t69" class="lb" transform="matrix(1 0 0 1.04 106.1 67.29)" font-size="8.1" text-anchor="end">(<tspan class="h1">1</tspan>7) Outbound Connections</text><use href="#one1" class="lb" transform="matrix(0.00396 0 0 -0.00413 9.33 67.29)"/>
<g clip-path="url(#cp1)">
<text id="t70" class="pc" transform="matrix(1 0 0 1.05 129.9 67.29)" font-size="8.1" text-anchor="end">26<tspan class="h1">%</tspan></text><use href="#pct1" class="pc" transform="matrix(0.00396 0 0 -0.00415 122.7 67.29)"/>
<text id="t71" class="pc" transform="matrix(1 0 0 1.05 207.65 67.29)" font-size="8.1" text-anchor="middle">3<tspan class="h1">1</tspan><tspan class="h1">%</tspan></text><use href="#one1" class="pc" transform="matrix(0.00396 0 0 -0.00415 204.05 67.29)"/><use href="#pct1" class="pc" transform="matrix(0.00396 0 0 -0.00415 208.56 67.29)"/>
<text id="t72" class="pc" transform="matrix(1 0 0 1.05 321 67.29)" font-size="8.1">43<tspan class="h1">%</tspan></text><use href="#pct1" class="pc" transform="matrix(0.00396 0 0 -0.00415 330.02 67.29)"/>
</g>
<text id="t73" class="lb" transform="matrix(1 0 0 1.04 106.1 75.01)" font-size="8.1" text-anchor="end">(<tspan class="h1">1</tspan>4) Software Execution</text><use href="#one1" class="lb" transform="matrix(0.00396 0 0 -0.00413 22.4 75.01)"/>
<g clip-path="url(#cp1)">
<text id="t74" class="pc" transform="matrix(1 0 0 1.05 129.9 75.01)" font-size="8.1" text-anchor="end"><tspan class="h1">1</tspan>7<tspan class="h1">%</tspan></text><use href="#one1" class="pc" transform="matrix(0.00396 0 0 -0.00415 113.67 75.01)"/><use href="#pct1" class="pc" transform="matrix(0.00396 0 0 -0.00415 122.7 75.01)"/>
<text id="t75" class="pc" transform="matrix(1 0 0 1.05 199.7 75.01)" font-size="8.1" text-anchor="middle">40<tspan class="h1">%</tspan></text><use href="#pct1" class="pc" transform="matrix(0.00396 0 0 -0.00415 200.61 75.01)"/>
<text id="t76" class="pc" transform="matrix(1 0 0 1.05 321 75.01)" font-size="8.1">43<tspan class="h1">%</tspan></text><use href="#pct1" class="pc" transform="matrix(0.00396 0 0 -0.00415 330.02 75.01)"/>
</g>
<text class="lb" transform="matrix(1 0 0 1.04 106.1 82.73)" font-size="8.1" text-anchor="end">(2) User Privileges</text>
<g clip-path="url(#cp1)">
<text id="t77" class="pc" transform="matrix(1 0 0 1.05 129.9 82.73)" font-size="8.1" text-anchor="end"><tspan class="h1">1</tspan>3<tspan class="h1">%</tspan></text><use href="#one1" class="pc" transform="matrix(0.00396 0 0 -0.00415 113.67 82.73)"/><use href="#pct1" class="pc" transform="matrix(0.00396 0 0 -0.00415 122.7 82.73)"/>
<text id="t78" class="pc" transform="matrix(1 0 0 1.05 196.45 82.73)" font-size="8.1" text-anchor="middle">45<tspan class="h1">%</tspan></text><use href="#pct1" class="pc" transform="matrix(0.00396 0 0 -0.00415 197.36 82.73)"/>
<text id="t79" class="pc" transform="matrix(1 0 0 1.05 321 82.73)" font-size="8.1">42<tspan class="h1">%</tspan></text><use href="#pct1" class="pc" transform="matrix(0.00396 0 0 -0.00415 330.02 82.73)"/>
</g>
<text id="t80" class="lb" transform="matrix(1 0 0 1.04 106.1 90.45)" font-size="8.1" text-anchor="end">(<tspan class="h1">1</tspan>5) New Network Device</text><use href="#one1" class="lb" transform="matrix(0.00396 0 0 -0.00413 17.02 90.45)"/>
<g clip-path="url(#cp1)">
<text id="t81" class="pc" transform="matrix(1 0 0 1.05 129.9 90.45)" font-size="8.1" text-anchor="end">32<tspan class="h1">%</tspan></text><use href="#pct1" class="pc" transform="matrix(0.00396 0 0 -0.00415 122.7 90.45)"/>
<text id="t82" class="pc" transform="matrix(1 0 0 1.05 219.25 90.45)" font-size="8.1" text-anchor="middle">30<tspan class="h1">%</tspan></text><use href="#pct1" class="pc" transform="matrix(0.00396 0 0 -0.00415 220.16 90.45)"/>
<text id="t83" class="pc" transform="matrix(1 0 0 1.05 321 90.45)" font-size="8.1">38<tspan class="h1">%</tspan></text><use href="#pct1" class="pc" transform="matrix(0.00396 0 0 -0.00415 330.02 90.45)"/>
</g>
<text class="lb" transform="matrix(1 0 0 1.04 106.1 98.17)" font-size="8.1" text-anchor="end">(7) System Commands</text>
<g clip-path="url(#cp1)">
<text id="t84" class="pc" transform="matrix(1 0 0 1.05 129.9 98.17)" font-size="8.1" text-anchor="end"><tspan class="h1">1</tspan>8<tspan class="h1">%</tspan></text><use href="#one1" class="pc" transform="matrix(0.00396 0 0 -0.00415 113.67 98.17)"/><use href="#pct1" class="pc" transform="matrix(0.00396 0 0 -0.00415 122.7 98.17)"/>
<text id="t85" class="pc" transform="matrix(1 0 0 1.05 206.8 98.17)" font-size="8.1" text-anchor="middle">45<tspan class="h1">%</tspan></text><use href="#pct1" class="pc" transform="matrix(0.00396 0 0 -0.00415 207.71 98.17)"/>
<text id="t86" class="pc" transform="matrix(1 0 0 1.05 321 98.17)" font-size="8.1">37<tspan class="h1">%</tspan></text><use href="#pct1" class="pc" transform="matrix(0.00396 0 0 -0.00415 330.02 98.17)"/>
</g>
<text class="lb" transform="matrix(1 0 0 1.04 106.1 105.89)" font-size="8.1" text-anchor="end">(4) Many Copy−Operations</text>
<g clip-path="url(#cp1)">
<text id="t87" class="pc" transform="matrix(1 0 0 1.05 129.9 105.89)" font-size="8.1" text-anchor="end">35<tspan class="h1">%</tspan></text><use href="#pct1" class="pc" transform="matrix(0.00396 0 0 -0.00415 122.7 105.89)"/>
<text id="t88" class="pc" transform="matrix(1 0 0 1.05 224 105.89)" font-size="8.1" text-anchor="middle">30<tspan class="h1">%</tspan></text><use href="#pct1" class="pc" transform="matrix(0.00396 0 0 -0.00415 224.91 105.89)"/>
<text id="t89" class="pc" transform="matrix(1 0 0 1.05 321 105.89)" font-size="8.1">35<tspan class="h1">%</tspan></text><use href="#pct1" class="pc" transform="matrix(0.00396 0 0 -0.00415 330.02 105.89)"/>
</g>
<text id="t90" class="lb" transform="matrix(1 0 0 1.04 106.1 113.61)" font-size="8.1" text-anchor="end">(<tspan class="h1">1</tspan>0) Server Login</text><use href="#one1" class="lb" transform="matrix(0.00396 0 0 -0.00413 46.24 113.61)"/>
<g clip-path="url(#cp1)">
<text id="t91" class="pc" transform="matrix(1 0 0 1.05 129.9 113.61)" font-size="8.1" text-anchor="end">2<tspan class="h1">1</tspan><tspan class="h1">%</tspan></text><use href="#one1" class="pc" transform="matrix(0.00396 0 0 -0.00415 118.18 113.61)"/><use href="#pct1" class="pc" transform="matrix(0.00396 0 0 -0.00415 122.7 113.61)"/>
<text id="t92" class="pc" transform="matrix(1 0 0 1.05 211.75 113.61)" font-size="8.1" text-anchor="middle">45<tspan class="h1">%</tspan></text><use href="#pct1" class="pc" transform="matrix(0.00396 0 0 -0.00415 212.66 113.61)"/>
<text id="t93" class="pc" transform="matrix(1 0 0 1.05 321 113.61)" font-size="8.1">34<tspan class="h1">%</tspan></text><use href="#pct1" class="pc" transform="matrix(0.00396 0 0 -0.00415 330.02 113.61)"/>
</g>
<text id="t94" class="lb" transform="matrix(1 0 0 1.04 106.1 121.33)" font-size="8.1" text-anchor="end">(<tspan class="h1">1</tspan>) File Permissions</text><use href="#one1" class="lb" transform="matrix(0.00396 0 0 -0.00413 37.27 121.33)"/>
<g clip-path="url(#cp1)">
<text id="t95" class="pc" transform="matrix(1 0 0 1.05 129.9 121.33)" font-size="8.1" text-anchor="end">38<tspan class="h1">%</tspan></text><use href="#pct1" class="pc" transform="matrix(0.00396 0 0 -0.00415 122.7 121.33)"/>
<text id="t96" class="pc" transform="matrix(1 0 0 1.05 229.15 121.33)" font-size="8.1" text-anchor="middle">30<tspan class="h1">%</tspan></text><use href="#pct1" class="pc" transform="matrix(0.00396 0 0 -0.00415 230.06 121.33)"/>
<text id="t97" class="pc" transform="matrix(1 0 0 1.05 321 121.33)" font-size="8.1">32<tspan class="h1">%</tspan></text><use href="#pct1" class="pc" transform="matrix(0.00396 0 0 -0.00415 330.02 121.33)"/>
</g>
<text class="lb" transform="matrix(1 0 0 1.04 106.1 129.05)" font-size="8.1" text-anchor="end">(5) Custom Scripts</text>
<g clip-path="url(#cp1)">
<text id="t98" class="pc" transform="matrix(1 0 0 1.05 129.9 129.05)" font-size="8.1" text-anchor="end">2<tspan class="h1">1</tspan><tspan class="h1">%</tspan></text><use href="#one1" class="pc" transform="matrix(0.00396 0 0 -0.00415 118.18 129.05)"/><use href="#pct1" class="pc" transform="matrix(0.00396 0 0 -0.00415 122.7 129.05)"/>
<text id="t99" class="pc" transform="matrix(1 0 0 1.05 214.4 129.05)" font-size="8.1" text-anchor="middle">49<tspan class="h1">%</tspan></text><use href="#pct1" class="pc" transform="matrix(0.00396 0 0 -0.00415 215.31 129.05)"/>
<text id="t100" class="pc" transform="matrix(1 0 0 1.05 321 129.05)" font-size="8.1">3<tspan class="h1">1</tspan><tspan class="h1">%</tspan></text><use href="#one1" class="pc" transform="matrix(0.00396 0 0 -0.00415 325.52 129.05)"/><use href="#pct1" class="pc" transform="matrix(0.00396 0 0 -0.00415 330.03 129.05)"/>
</g>
<text class="lb" transform="matrix(1 0 0 1.04 106.1 136.77)" font-size="8.1" text-anchor="end">(6) Network commands</text>
<g clip-path="url(#cp1)">
<text id="t101" class="pc" transform="matrix(1 0 0 1.05 129.9 136.77)" font-size="8.1" text-anchor="end">28<tspan class="h1">%</tspan></text><use href="#pct1" class="pc" transform="matrix(0.00396 0 0 -0.00415 122.7 136.77)"/>
<text id="t102" class="pc" transform="matrix(1 0 0 1.05 221.35 136.77)" font-size="8.1" text-anchor="middle">42<tspan class="h1">%</tspan></text><use href="#pct1" class="pc" transform="matrix(0.00396 0 0 -0.00415 222.26 136.77)"/>
<text id="t103" class="pc" transform="matrix(1 0 0 1.05 321 136.77)" font-size="8.1">3<tspan class="h1">1</tspan><tspan class="h1">%</tspan></text><use href="#one1" class="pc" transform="matrix(0.00396 0 0 -0.00415 325.52 136.77)"/><use href="#pct1" class="pc" transform="matrix(0.00396 0 0 -0.00415 330.03 136.77)"/>
</g>
<text class="lb" transform="matrix(1 0 0 1.04 106.1 144.49)" font-size="8.1" text-anchor="end">(8) Software Installation</text>
<g clip-path="url(#cp1)">
<text id="t104" class="pc" transform="matrix(1 0 0 1.05 129.9 144.49)" font-size="8.1" text-anchor="end">26<tspan class="h1">%</tspan></text><use href="#pct1" class="pc" transform="matrix(0.00396 0 0 -0.00415 122.7 144.49)"/>
<text id="t105" class="pc" transform="matrix(1 0 0 1.05 220.7 144.49)" font-size="8.1" text-anchor="middle">45<tspan class="h1">%</tspan></text><use href="#pct1" class="pc" transform="matrix(0.00396 0 0 -0.00415 221.61 144.49)"/>
<text id="t106" class="pc" transform="matrix(1 0 0 1.05 321 144.49)" font-size="8.1">29<tspan class="h1">%</tspan></text><use href="#pct1" class="pc" transform="matrix(0.00396 0 0 -0.00415 330.02 144.49)"/>
</g>
<text class="lb" transform="matrix(1 0 0 1.04 106.1 152.21)" font-size="8.1" text-anchor="end">(9) Credential Updates</text>
<g clip-path="url(#cp1)">
<text id="t107" class="pc" transform="matrix(1 0 0 1.05 129.9 152.21)" font-size="8.1" text-anchor="end">38<tspan class="h1">%</tspan></text><use href="#pct1" class="pc" transform="matrix(0.00396 0 0 -0.00415 122.7 152.21)"/>
<text id="t108" class="pc" transform="matrix(1 0 0 1.05 236 152.21)" font-size="8.1" text-anchor="middle">36<tspan class="h1">%</tspan></text><use href="#pct1" class="pc" transform="matrix(0.00396 0 0 -0.00415 236.91 152.21)"/>
<text id="t109" class="pc" transform="matrix(1 0 0 1.05 321 152.21)" font-size="8.1">26<tspan class="h1">%</tspan></text><use href="#pct1" class="pc" transform="matrix(0.00396 0 0 -0.00415 330.02 152.21)"/>
</g>
<text id="t110" class="lb" transform="matrix(1 0 0 1.04 106.1 159.93)" font-size="8.1" text-anchor="end">(<tspan class="h1">1</tspan>3) Inbound Connections</text><use href="#one1" class="lb" transform="matrix(0.00396 0 0 -0.00413 15.63 159.93)"/>
<g clip-path="url(#cp1)">
<text id="t111" class="pc" transform="matrix(1 0 0 1.05 129.9 159.93)" font-size="8.1" text-anchor="end">25<tspan class="h1">%</tspan></text><use href="#pct1" class="pc" transform="matrix(0.00396 0 0 -0.00415 122.7 159.93)"/>
<text id="t112" class="pc" transform="matrix(1 0 0 1.05 224 159.93)" font-size="8.1" text-anchor="middle">50<tspan class="h1">%</tspan></text><use href="#pct1" class="pc" transform="matrix(0.00396 0 0 -0.00415 224.91 159.93)"/>
<text id="t113" class="pc" transform="matrix(1 0 0 1.05 321 159.93)" font-size="8.1">25<tspan class="h1">%</tspan></text><use href="#pct1" class="pc" transform="matrix(0.00396 0 0 -0.00415 330.02 159.93)"/>
</g>
<text id="t114" class="lb" transform="matrix(1 0 0 1.04 106.1 167.65)" font-size="8.1" text-anchor="end">(<tspan class="h1">1</tspan><tspan class="h1">1</tspan>) Server Checks/Cleaning</text><use href="#one1" class="lb" transform="matrix(0.00396 0 0 -0.00413 4.85 167.65)"/><use href="#one1" class="lb" transform="matrix(0.00396 0 0 -0.00413 9.37 167.65)"/>
<g clip-path="url(#cp1)">
<text id="t115" class="pc" transform="matrix(1 0 0 1.05 129.9 167.65)" font-size="8.1" text-anchor="end">50<tspan class="h1">%</tspan></text><use href="#pct1" class="pc" transform="matrix(0.00396 0 0 -0.00415 122.7 167.65)"/>
<text id="t116" class="pc" transform="matrix(1 0 0 1.05 252.15 167.65)" font-size="8.1" text-anchor="middle">30<tspan class="h1">%</tspan></text><use href="#pct1" class="pc" transform="matrix(0.00396 0 0 -0.00415 253.06 167.65)"/>
<text id="t117" class="pc" transform="matrix(1 0 0 1.05 321 167.65)" font-size="8.1">20<tspan class="h1">%</tspan></text><use href="#pct1" class="pc" transform="matrix(0.00396 0 0 -0.00415 330.02 167.65)"/>
</g>
<text id="t118" class="lb" transform="matrix(1 0 0 1.04 106.1 175.37)" font-size="8.1" text-anchor="end">(<tspan class="h1">1</tspan>2) Server Reboot</text><use href="#one1" class="lb" transform="matrix(0.00396 0 0 -0.00413 39.94 175.37)"/>
<g clip-path="url(#cp1)">
<text id="t119" class="pc" transform="matrix(1 0 0 1.05 129.9 175.37)" font-size="8.1" text-anchor="end">56<tspan class="h1">%</tspan></text><use href="#pct1" class="pc" transform="matrix(0.00396 0 0 -0.00415 122.7 175.37)"/>
<text id="t120" class="pc" transform="matrix(1 0 0 1.05 259.95 175.37)" font-size="8.1" text-anchor="middle">26<tspan class="h1">%</tspan></text><use href="#pct1" class="pc" transform="matrix(0.00396 0 0 -0.00415 260.86 175.37)"/>
<text id="t121" class="pc" transform="matrix(1 0 0 1.05 321 175.37)" font-size="8.1"><tspan class="h1">1</tspan>8<tspan class="h1">%</tspan></text><use href="#one1" class="pc" transform="matrix(0.00396 0 0 -0.00415 321 175.37)"/><use href="#pct1" class="pc" transform="matrix(0.00396 0 0 -0.00415 330.03 175.37)"/>
</g>
</g>
<g transform="translate(0,158.2)">
<text id="t122" class="tt" transform="matrix(1 0 0 1.04 110.6 36.45)" font-size="11.7">Q<tspan class="h1">1</tspan>.3 Events occupy analysts' time</text><use href="#one1" class="tt" transform="matrix(0.00571 0 0 -0.00597 119.69 36.45)"/>
<rect x="110.6" y="44.4" width="226.7" height="131.8" fill="#fff" stroke="#A3A3A3" stroke-width="1"/>
<line x1="130.1" y1="43.8" x2="130.1" y2="176.8" stroke="#fff" stroke-width="0.6"/>
<line x1="153.54" y1="43.8" x2="153.54" y2="176.8" stroke="#fff" stroke-width="0.6"/>
<line x1="176.97" y1="43.8" x2="176.97" y2="176.8" stroke="#fff" stroke-width="0.6"/>
<line x1="200.41" y1="43.8" x2="200.41" y2="176.8" stroke="#fff" stroke-width="0.6"/>
<line x1="223.85" y1="43.8" x2="223.85" y2="176.8" stroke="#fff" stroke-width="0.6"/>
<line x1="247.29" y1="43.8" x2="247.29" y2="176.8" stroke="#fff" stroke-width="0.6"/>
<line x1="270.73" y1="43.8" x2="270.73" y2="176.8" stroke="#fff" stroke-width="0.6"/>
<line x1="294.16" y1="43.8" x2="294.16" y2="176.8" stroke="#fff" stroke-width="0.6"/>
<line x1="317.6" y1="43.8" x2="317.6" y2="176.8" stroke="#fff" stroke-width="0.6"/>
<line x1="110" y1="48.55" x2="337.9" y2="48.55" stroke="#fff" stroke-width="0.9"/>
<line x1="110" y1="56.28" x2="337.9" y2="56.28" stroke="#fff" stroke-width="0.9"/>
<line x1="110" y1="64.02" x2="337.9" y2="64.02" stroke="#fff" stroke-width="0.9"/>
<line x1="110" y1="71.75" x2="337.9" y2="71.75" stroke="#fff" stroke-width="0.9"/>
<line x1="110" y1="79.49" x2="337.9" y2="79.49" stroke="#fff" stroke-width="0.9"/>
<line x1="110" y1="87.22" x2="337.9" y2="87.22" stroke="#fff" stroke-width="0.9"/>
<line x1="110" y1="94.96" x2="337.9" y2="94.96" stroke="#fff" stroke-width="0.9"/>
<line x1="110" y1="102.69" x2="337.9" y2="102.69" stroke="#fff" stroke-width="0.9"/>
<line x1="110" y1="110.43" x2="337.9" y2="110.43" stroke="#fff" stroke-width="0.9"/>
<line x1="110" y1="118.16" x2="337.9" y2="118.16" stroke="#fff" stroke-width="0.9"/>
<line x1="110" y1="125.89" x2="337.9" y2="125.89" stroke="#fff" stroke-width="0.9"/>
<line x1="110" y1="133.63" x2="337.9" y2="133.63" stroke="#fff" stroke-width="0.9"/>
<line x1="110" y1="141.36" x2="337.9" y2="141.36" stroke="#fff" stroke-width="0.9"/>
<line x1="110" y1="149.1" x2="337.9" y2="149.1" stroke="#fff" stroke-width="0.9"/>
<line x1="110" y1="156.83" x2="337.9" y2="156.83" stroke="#fff" stroke-width="0.9"/>
<line x1="110" y1="164.57" x2="337.9" y2="164.57" stroke="#fff" stroke-width="0.9"/>
<line x1="110" y1="172.3" x2="337.9" y2="172.3" stroke="#fff" stroke-width="0.9"/>
<rect x="130.1" y="44.99" width="4.9" height="7.12" fill="#D3AE67"/>
<rect x="135" y="44.99" width="47" height="7.12" fill="#E6D5AA"/>
<rect x="182" y="44.99" width="47.2" height="7.12" fill="#E0E1E0"/>
<rect x="229.2" y="44.99" width="72.9" height="7.12" fill="#97CAC4"/>
<rect x="302.1" y="44.99" width="15.5" height="7.12" fill="#47A79B"/>
<rect x="130.1" y="52.72" width="37.4" height="7.12" fill="#E6D5AA"/>
<rect x="167.5" y="52.72" width="69.5" height="7.12" fill="#E0E1E0"/>
<rect x="237" y="52.72" width="48.7" height="7.12" fill="#97CAC4"/>
<rect x="285.7" y="52.72" width="31.9" height="7.12" fill="#47A79B"/>
<rect x="130.1" y="60.46" width="4.6" height="7.12" fill="#D3AE67"/>
<rect x="134.7" y="60.46" width="56.1" height="7.12" fill="#E6D5AA"/>
<rect x="190.8" y="60.46" width="56" height="7.12" fill="#E0E1E0"/>
<rect x="246.8" y="60.46" width="45.5" height="7.12" fill="#97CAC4"/>
<rect x="292.3" y="60.46" width="25.3" height="7.12" fill="#47A79B"/>
<rect x="130.1" y="68.19" width="5.2" height="7.12" fill="#D3AE67"/>
<rect x="135.3" y="68.19" width="42.7" height="7.12" fill="#E6D5AA"/>
<rect x="178" y="68.19" width="70.1" height="7.12" fill="#E0E1E0"/>
<rect x="248.1" y="68.19" width="42.9" height="7.12" fill="#97CAC4"/>
<rect x="291" y="68.19" width="26.6" height="7.12" fill="#47A79B"/>
<rect x="130.1" y="75.93" width="44.2" height="7.12" fill="#E6D5AA"/>
<rect x="174.3" y="75.93" width="79.4" height="7.12" fill="#E0E1E0"/>
<rect x="253.7" y="75.93" width="54.4" height="7.12" fill="#97CAC4"/>
<rect x="308.1" y="75.93" width="9.5" height="7.12" fill="#47A79B"/>
<rect x="130.1" y="83.66" width="34.1" height="7.12" fill="#E6D5AA"/>
<rect x="164.2" y="83.66" width="89.5" height="7.12" fill="#E0E1E0"/>
<rect x="253.7" y="83.66" width="54.4" height="7.12" fill="#97CAC4"/>
<rect x="308.1" y="83.66" width="9.5" height="7.12" fill="#47A79B"/>
<rect x="130.1" y="91.4" width="5.9" height="7.12" fill="#D3AE67"/>
<rect x="136" y="91.4" width="42" height="7.12" fill="#E6D5AA"/>
<rect x="178" y="91.4" width="79.2" height="7.12" fill="#E0E1E0"/>
<rect x="257.2" y="91.4" width="54.7" height="7.12" fill="#97CAC4"/>
<rect x="311.9" y="91.4" width="5.7" height="7.12" fill="#47A79B"/>
<rect x="130.1" y="99.13" width="50" height="7.12" fill="#E6D5AA"/>
<rect x="180.1" y="99.13" width="78" height="7.12" fill="#E0E1E0"/>
<rect x="258.1" y="99.13" width="41.3" height="7.12" fill="#97CAC4"/>
<rect x="299.4" y="99.13" width="18.2" height="7.12" fill="#47A79B"/>
<rect x="130.1" y="106.87" width="13.7" height="7.12" fill="#D3AE67"/>
<rect x="143.8" y="106.87" width="70.4" height="7.12" fill="#E6D5AA"/>
<rect x="214.2" y="106.87" width="47.2" height="7.12" fill="#E0E1E0"/>
<rect x="261.4" y="106.87" width="37.6" height="7.12" fill="#97CAC4"/>
<rect x="299" y="106.87" width="18.6" height="7.12" fill="#47A79B"/>
<rect x="130.1" y="114.6" width="5.9" height="7.12" fill="#D3AE67"/>
<rect x="136" y="114.6" width="66.6" height="7.12" fill="#E6D5AA"/>
<rect x="202.6" y="114.6" width="60.4" height="7.12" fill="#E0E1E0"/>
<rect x="263" y="114.6" width="48.9" height="7.12" fill="#97CAC4"/>
<rect x="311.9" y="114.6" width="5.7" height="7.12" fill="#47A79B"/>
<rect x="130.1" y="122.33" width="5.2" height="7.12" fill="#D3AE67"/>
<rect x="135.3" y="122.33" width="58.9" height="7.12" fill="#E6D5AA"/>
<rect x="194.2" y="122.33" width="69.9" height="7.12" fill="#E0E1E0"/>
<rect x="264.1" y="122.33" width="43" height="7.12" fill="#97CAC4"/>
<rect x="307.1" y="122.33" width="10.5" height="7.12" fill="#47A79B"/>
<rect x="130.1" y="130.07" width="39.2" height="7.12" fill="#E6D5AA"/>
<rect x="169.3" y="130.07" width="103.8" height="7.12" fill="#E0E1E0"/>
<rect x="273.1" y="130.07" width="24.9" height="7.12" fill="#97CAC4"/>
<rect x="298" y="130.07" width="19.6" height="7.12" fill="#47A79B"/>
<rect x="130.1" y="137.8" width="57" height="7.12" fill="#E6D5AA"/>
<rect x="187.1" y="137.8" width="89" height="7.12" fill="#E0E1E0"/>
<rect x="276.1" y="137.8" width="41.5" height="7.12" fill="#97CAC4"/>
<rect x="130.1" y="145.54" width="15" height="7.12" fill="#D3AE67"/>
<rect x="145.1" y="145.54" width="55.8" height="7.12" fill="#E6D5AA"/>
<rect x="200.9" y="145.54" width="81.3" height="7.12" fill="#E0E1E0"/>
<rect x="282.2" y="145.54" width="25.6" height="7.12" fill="#97CAC4"/>
<rect x="307.8" y="145.54" width="9.8" height="7.12" fill="#47A79B"/>
<rect x="130.1" y="153.27" width="24.1" height="7.12" fill="#D3AE67"/>
<rect x="154.2" y="153.27" width="74.7" height="7.12" fill="#E6D5AA"/>
<rect x="228.9" y="153.27" width="54.2" height="7.12" fill="#E0E1E0"/>
<rect x="283.1" y="153.27" width="24.7" height="7.12" fill="#97CAC4"/>
<rect x="307.8" y="153.27" width="9.8" height="7.12" fill="#47A79B"/>
<rect x="130.1" y="161.01" width="33.6" height="7.12" fill="#D3AE67"/>
<rect x="163.7" y="161.01" width="77.1" height="7.12" fill="#E6D5AA"/>
<rect x="240.8" y="161.01" width="48.1" height="7.12" fill="#E0E1E0"/>
<rect x="288.9" y="161.01" width="24.1" height="7.12" fill="#97CAC4"/>
<rect x="313" y="161.01" width="4.6" height="7.12" fill="#47A79B"/>
<rect x="130.1" y="168.74" width="37.1" height="7.12" fill="#D3AE67"/>
<rect x="167.2" y="168.74" width="61.3" height="7.12" fill="#E6D5AA"/>
<rect x="228.5" y="168.74" width="61" height="7.12" fill="#E0E1E0"/>
<rect x="289.5" y="168.74" width="23.5" height="7.12" fill="#97CAC4"/>
<rect x="313" y="168.74" width="4.6" height="7.12" fill="#47A79B"/>
<defs><clipPath id="cp2"><rect x="110.6" y="44.4" width="225.8" height="131.8"/></clipPath></defs>
<text class="lb" transform="matrix(1 0 0 1.04 105.6 51.85)" font-size="8.1" text-anchor="end">(3) OS Configurations</text>
<g clip-path="url(#cp2)">
<text id="t123" class="pc" transform="matrix(1 0 0 1.05 129.9 51.85)" font-size="8.1" text-anchor="end">28<tspan class="h1">%</tspan></text><use href="#pct1" class="pc" transform="matrix(0.00396 0 0 -0.00415 122.7 51.85)"/>
<text id="t124" class="pc" transform="matrix(1 0 0 1.05 205.6 51.85)" font-size="8.1" text-anchor="middle">25<tspan class="h1">%</tspan></text><use href="#pct1" class="pc" transform="matrix(0.00396 0 0 -0.00415 206.51 51.85)"/>
<text id="t125" class="pc" transform="matrix(1 0 0 1.05 321 51.85)" font-size="8.1">47<tspan class="h1">%</tspan></text><use href="#pct1" class="pc" transform="matrix(0.00396 0 0 -0.00415 330.02 51.85)"/>
</g>
<text id="t126" class="lb" transform="matrix(1 0 0 1.04 105.6 59.57)" font-size="8.1" text-anchor="end">(<tspan class="h1">1</tspan>7) Outbound Connections</text><use href="#one1" class="lb" transform="matrix(0.00396 0 0 -0.00413 8.83 59.57)"/>
<g clip-path="url(#cp2)">
<text id="t127" class="pc" transform="matrix(1 0 0 1.05 129.9 59.57)" font-size="8.1" text-anchor="end">20<tspan class="h1">%</tspan></text><use href="#pct1" class="pc" transform="matrix(0.00396 0 0 -0.00415 122.7 59.57)"/>
<text id="t128" class="pc" transform="matrix(1 0 0 1.05 202.25 59.57)" font-size="8.1" text-anchor="middle">37<tspan class="h1">%</tspan></text><use href="#pct1" class="pc" transform="matrix(0.00396 0 0 -0.00415 203.16 59.57)"/>
<text id="t129" class="pc" transform="matrix(1 0 0 1.05 321 59.57)" font-size="8.1">43<tspan class="h1">%</tspan></text><use href="#pct1" class="pc" transform="matrix(0.00396 0 0 -0.00415 330.02 59.57)"/>
</g>
<text class="lb" transform="matrix(1 0 0 1.04 105.6 67.29)" font-size="8.1" text-anchor="end">(4) Many Copy−Operations</text>
<g clip-path="url(#cp2)">
<text id="t130" class="pc" transform="matrix(1 0 0 1.05 129.9 67.29)" font-size="8.1" text-anchor="end">32<tspan class="h1">%</tspan></text><use href="#pct1" class="pc" transform="matrix(0.00396 0 0 -0.00415 122.7 67.29)"/>
<text id="t131" class="pc" transform="matrix(1 0 0 1.05 218.8 67.29)" font-size="8.1" text-anchor="middle">30<tspan class="h1">%</tspan></text><use href="#pct1" class="pc" transform="matrix(0.00396 0 0 -0.00415 219.71 67.29)"/>
<text id="t132" class="pc" transform="matrix(1 0 0 1.05 321 67.29)" font-size="8.1">38<tspan class="h1">%</tspan></text><use href="#pct1" class="pc" transform="matrix(0.00396 0 0 -0.00415 330.02 67.29)"/>
</g>
<text id="t133" class="lb" transform="matrix(1 0 0 1.04 105.6 75.01)" font-size="8.1" text-anchor="end">(<tspan class="h1">1</tspan>4) Software Execution</text><use href="#one1" class="lb" transform="matrix(0.00396 0 0 -0.00413 21.9 75.01)"/>
<g clip-path="url(#cp2)">
<text id="t134" class="pc" transform="matrix(1 0 0 1.05 129.9 75.01)" font-size="8.1" text-anchor="end">26<tspan class="h1">%</tspan></text><use href="#pct1" class="pc" transform="matrix(0.00396 0 0 -0.00415 122.7 75.01)"/>
<text id="t135" class="pc" transform="matrix(1 0 0 1.05 213.05 75.01)" font-size="8.1" text-anchor="middle">37<tspan class="h1">%</tspan></text><use href="#pct1" class="pc" transform="matrix(0.00396 0 0 -0.00415 213.96 75.01)"/>
<text id="t136" class="pc" transform="matrix(1 0 0 1.05 321 75.01)" font-size="8.1">37<tspan class="h1">%</tspan></text><use href="#pct1" class="pc" transform="matrix(0.00396 0 0 -0.00415 330.02 75.01)"/>
</g>
<text class="lb" transform="matrix(1 0 0 1.04 105.6 82.73)" font-size="8.1" text-anchor="end">(7) System Commands</text>
<g clip-path="url(#cp2)">
<text id="t137" class="pc" transform="matrix(1 0 0 1.05 129.9 82.73)" font-size="8.1" text-anchor="end">24<tspan class="h1">%</tspan></text><use href="#pct1" class="pc" transform="matrix(0.00396 0 0 -0.00415 122.7 82.73)"/>
<text id="t138" class="pc" transform="matrix(1 0 0 1.05 214 82.73)" font-size="8.1" text-anchor="middle">42<tspan class="h1">%</tspan></text><use href="#pct1" class="pc" transform="matrix(0.00396 0 0 -0.00415 214.91 82.73)"/>
<text id="t139" class="pc" transform="matrix(1 0 0 1.05 321 82.73)" font-size="8.1">34<tspan class="h1">%</tspan></text><use href="#pct1" class="pc" transform="matrix(0.00396 0 0 -0.00415 330.02 82.73)"/>
</g>
<text class="lb" transform="matrix(1 0 0 1.04 105.6 90.45)" font-size="8.1" text-anchor="end">(5) Custom Scripts</text>
<g clip-path="url(#cp2)">
<text id="t140" class="pc" transform="matrix(1 0 0 1.05 129.9 90.45)" font-size="8.1" text-anchor="end"><tspan class="h1">1</tspan>8<tspan class="h1">%</tspan></text><use href="#one1" class="pc" transform="matrix(0.00396 0 0 -0.00415 113.67 90.45)"/><use href="#pct1" class="pc" transform="matrix(0.00396 0 0 -0.00415 122.7 90.45)"/>
<text id="t141" class="pc" transform="matrix(1 0 0 1.05 208.95 90.45)" font-size="8.1" text-anchor="middle">47<tspan class="h1">%</tspan></text><use href="#pct1" class="pc" transform="matrix(0.00396 0 0 -0.00415 209.86 90.45)"/>
<text id="t142" class="pc" transform="matrix(1 0 0 1.05 321 90.45)" font-size="8.1">34<tspan class="h1">%</tspan></text><use href="#pct1" class="pc" transform="matrix(0.00396 0 0 -0.00415 330.02 90.45)"/>
</g>
<text class="lb" transform="matrix(1 0 0 1.04 105.6 98.17)" font-size="8.1" text-anchor="end">(2) User Privileges</text>
<g clip-path="url(#cp2)">
<text id="t143" class="pc" transform="matrix(1 0 0 1.05 129.9 98.17)" font-size="8.1" text-anchor="end">26<tspan class="h1">%</tspan></text><use href="#pct1" class="pc" transform="matrix(0.00396 0 0 -0.00415 122.7 98.17)"/>
<text id="t144" class="pc" transform="matrix(1 0 0 1.05 217.6 98.17)" font-size="8.1" text-anchor="middle">42<tspan class="h1">%</tspan></text><use href="#pct1" class="pc" transform="matrix(0.00396 0 0 -0.00415 218.51 98.17)"/>
<text id="t145" class="pc" transform="matrix(1 0 0 1.05 321 98.17)" font-size="8.1">32<tspan class="h1">%</tspan></text><use href="#pct1" class="pc" transform="matrix(0.00396 0 0 -0.00415 330.02 98.17)"/>
</g>
<text id="t146" class="lb" transform="matrix(1 0 0 1.04 105.6 105.89)" font-size="8.1" text-anchor="end">(<tspan class="h1">1</tspan>6) Failed Login</text><use href="#one1" class="lb" transform="matrix(0.00396 0 0 -0.00413 47.54 105.89)"/>
<g clip-path="url(#cp2)">
<text id="t147" class="pc" transform="matrix(1 0 0 1.05 129.9 105.89)" font-size="8.1" text-anchor="end">27<tspan class="h1">%</tspan></text><use href="#pct1" class="pc" transform="matrix(0.00396 0 0 -0.00415 122.7 105.89)"/>
<text id="t148" class="pc" transform="matrix(1 0 0 1.05 219.1 105.89)" font-size="8.1" text-anchor="middle">4<tspan class="h1">1</tspan><tspan class="h1">%</tspan></text><use href="#one1" class="pc" transform="matrix(0.00396 0 0 -0.00415 215.5 105.89)"/><use href="#pct1" class="pc" transform="matrix(0.00396 0 0 -0.00415 220.01 105.89)"/>
<text id="t149" class="pc" transform="matrix(1 0 0 1.05 321 105.89)" font-size="8.1">32<tspan class="h1">%</tspan></text><use href="#pct1" class="pc" transform="matrix(0.00396 0 0 -0.00415 330.02 105.89)"/>
</g>
<text id="t150" class="lb" transform="matrix(1 0 0 1.04 105.6 113.61)" font-size="8.1" text-anchor="end">(<tspan class="h1">1</tspan>5) New Network Device</text><use href="#one1" class="lb" transform="matrix(0.00396 0 0 -0.00413 16.52 113.61)"/>
<g clip-path="url(#cp2)">
<text id="t151" class="pc" transform="matrix(1 0 0 1.05 129.9 113.61)" font-size="8.1" text-anchor="end">45<tspan class="h1">%</tspan></text><use href="#pct1" class="pc" transform="matrix(0.00396 0 0 -0.00415 122.7 113.61)"/>
<text id="t152" class="pc" transform="matrix(1 0 0 1.05 237.8 113.61)" font-size="8.1" text-anchor="middle">25<tspan class="h1">%</tspan></text><use href="#pct1" class="pc" transform="matrix(0.00396 0 0 -0.00415 238.71 113.61)"/>
<text id="t153" class="pc" transform="matrix(1 0 0 1.05 321 113.61)" font-size="8.1">30<tspan class="h1">%</tspan></text><use href="#pct1" class="pc" transform="matrix(0.00396 0 0 -0.00415 330.02 113.61)"/>
</g>
<text class="lb" transform="matrix(1 0 0 1.04 105.6 121.33)" font-size="8.1" text-anchor="end">(8) Software Installation</text>
<g clip-path="url(#cp2)">
<text id="t154" class="pc" transform="matrix(1 0 0 1.05 129.9 121.33)" font-size="8.1" text-anchor="end">39<tspan class="h1">%</tspan></text><use href="#pct1" class="pc" transform="matrix(0.00396 0 0 -0.00415 122.7 121.33)"/>
<text id="t155" class="pc" transform="matrix(1 0 0 1.05 232.8 121.33)" font-size="8.1" text-anchor="middle">32<tspan class="h1">%</tspan></text><use href="#pct1" class="pc" transform="matrix(0.00396 0 0 -0.00415 233.71 121.33)"/>
<text id="t156" class="pc" transform="matrix(1 0 0 1.05 321 121.33)" font-size="8.1">29<tspan class="h1">%</tspan></text><use href="#pct1" class="pc" transform="matrix(0.00396 0 0 -0.00415 330.02 121.33)"/>
</g>
<text class="lb" transform="matrix(1 0 0 1.04 105.6 129.05)" font-size="8.1" text-anchor="end">(6) Network commands</text>
<g clip-path="url(#cp2)">
<text id="t157" class="pc" transform="matrix(1 0 0 1.05 129.9 129.05)" font-size="8.1" text-anchor="end">34<tspan class="h1">%</tspan></text><use href="#pct1" class="pc" transform="matrix(0.00396 0 0 -0.00415 122.7 129.05)"/>
<text id="t158" class="pc" transform="matrix(1 0 0 1.05 229.15 129.05)" font-size="8.1" text-anchor="middle">37<tspan class="h1">%</tspan></text><use href="#pct1" class="pc" transform="matrix(0.00396 0 0 -0.00415 230.06 129.05)"/>
<text id="t159" class="pc" transform="matrix(1 0 0 1.05 321 129.05)" font-size="8.1">29<tspan class="h1">%</tspan></text><use href="#pct1" class="pc" transform="matrix(0.00396 0 0 -0.00415 330.02 129.05)"/>
</g>
<text id="t160" class="lb" transform="matrix(1 0 0 1.04 105.6 136.77)" font-size="8.1" text-anchor="end">(<tspan class="h1">1</tspan>0) Server Login</text><use href="#one1" class="lb" transform="matrix(0.00396 0 0 -0.00413 45.74 136.77)"/>
<g clip-path="url(#cp2)">
<text id="t161" class="pc" transform="matrix(1 0 0 1.05 129.9 136.77)" font-size="8.1" text-anchor="end">2<tspan class="h1">1</tspan><tspan class="h1">%</tspan></text><use href="#one1" class="pc" transform="matrix(0.00396 0 0 -0.00415 118.18 136.77)"/><use href="#pct1" class="pc" transform="matrix(0.00396 0 0 -0.00415 122.7 136.77)"/>
<text id="t162" class="pc" transform="matrix(1 0 0 1.05 221.2 136.77)" font-size="8.1" text-anchor="middle">55<tspan class="h1">%</tspan></text><use href="#pct1" class="pc" transform="matrix(0.00396 0 0 -0.00415 222.11 136.77)"/>
<text id="t163" class="pc" transform="matrix(1 0 0 1.05 321 136.77)" font-size="8.1">24<tspan class="h1">%</tspan></text><use href="#pct1" class="pc" transform="matrix(0.00396 0 0 -0.00415 330.02 136.77)"/>
</g>
<text id="t164" class="lb" transform="matrix(1 0 0 1.04 105.6 144.49)" font-size="8.1" text-anchor="end">(<tspan class="h1">1</tspan>3) Inbound Connections</text><use href="#one1" class="lb" transform="matrix(0.00396 0 0 -0.00413 15.13 144.49)"/>
<g clip-path="url(#cp2)">
<text id="t165" class="pc" transform="matrix(1 0 0 1.05 129.9 144.49)" font-size="8.1" text-anchor="end">3<tspan class="h1">1</tspan><tspan class="h1">%</tspan></text><use href="#one1" class="pc" transform="matrix(0.00396 0 0 -0.00415 118.18 144.49)"/><use href="#pct1" class="pc" transform="matrix(0.00396 0 0 -0.00415 122.7 144.49)"/>
<text id="t166" class="pc" transform="matrix(1 0 0 1.05 231.6 144.49)" font-size="8.1" text-anchor="middle">47<tspan class="h1">%</tspan></text><use href="#pct1" class="pc" transform="matrix(0.00396 0 0 -0.00415 232.51 144.49)"/>
<text id="t167" class="pc" transform="matrix(1 0 0 1.05 321 144.49)" font-size="8.1">22<tspan class="h1">%</tspan></text><use href="#pct1" class="pc" transform="matrix(0.00396 0 0 -0.00415 330.02 144.49)"/>
</g>
<text id="t168" class="lb" transform="matrix(1 0 0 1.04 105.6 152.21)" font-size="8.1" text-anchor="end">(<tspan class="h1">1</tspan>) File Permissions</text><use href="#one1" class="lb" transform="matrix(0.00396 0 0 -0.00413 36.77 152.21)"/>
<g clip-path="url(#cp2)">
<text id="t169" class="pc" transform="matrix(1 0 0 1.05 129.9 152.21)" font-size="8.1" text-anchor="end">38<tspan class="h1">%</tspan></text><use href="#pct1" class="pc" transform="matrix(0.00396 0 0 -0.00415 122.7 152.21)"/>
<text id="t170" class="pc" transform="matrix(1 0 0 1.05 241.55 152.21)" font-size="8.1" text-anchor="middle">43<tspan class="h1">%</tspan></text><use href="#pct1" class="pc" transform="matrix(0.00396 0 0 -0.00415 242.46 152.21)"/>
<text id="t171" class="pc" transform="matrix(1 0 0 1.05 321 152.21)" font-size="8.1"><tspan class="h1">1</tspan>9<tspan class="h1">%</tspan></text><use href="#one1" class="pc" transform="matrix(0.00396 0 0 -0.00415 321 152.21)"/><use href="#pct1" class="pc" transform="matrix(0.00396 0 0 -0.00415 330.03 152.21)"/>
</g>
<text class="lb" transform="matrix(1 0 0 1.04 105.6 159.93)" font-size="8.1" text-anchor="end">(9) Credential Updates</text>
<g clip-path="url(#cp2)">
<text id="t172" class="pc" transform="matrix(1 0 0 1.05 129.9 159.93)" font-size="8.1" text-anchor="end">53<tspan class="h1">%</tspan></text><use href="#pct1" class="pc" transform="matrix(0.00396 0 0 -0.00415 122.7 159.93)"/>
<text id="t173" class="pc" transform="matrix(1 0 0 1.05 256 159.93)" font-size="8.1" text-anchor="middle">29<tspan class="h1">%</tspan></text><use href="#pct1" class="pc" transform="matrix(0.00396 0 0 -0.00415 256.91 159.93)"/>
<text id="t174" class="pc" transform="matrix(1 0 0 1.05 321 159.93)" font-size="8.1"><tspan class="h1">1</tspan>8<tspan class="h1">%</tspan></text><use href="#one1" class="pc" transform="matrix(0.00396 0 0 -0.00415 321 159.93)"/><use href="#pct1" class="pc" transform="matrix(0.00396 0 0 -0.00415 330.03 159.93)"/>
</g>
<text id="t175" class="lb" transform="matrix(1 0 0 1.04 105.6 167.65)" font-size="8.1" text-anchor="end">(<tspan class="h1">1</tspan>2) Server Reboot</text><use href="#one1" class="lb" transform="matrix(0.00396 0 0 -0.00413 39.44 167.65)"/>
<g clip-path="url(#cp2)">
<text id="t176" class="pc" transform="matrix(1 0 0 1.05 129.9 167.65)" font-size="8.1" text-anchor="end">59<tspan class="h1">%</tspan></text><use href="#pct1" class="pc" transform="matrix(0.00396 0 0 -0.00415 122.7 167.65)"/>
<text id="t177" class="pc" transform="matrix(1 0 0 1.05 264.85 167.65)" font-size="8.1" text-anchor="middle">26<tspan class="h1">%</tspan></text><use href="#pct1" class="pc" transform="matrix(0.00396 0 0 -0.00415 265.76 167.65)"/>
<text id="t178" class="pc" transform="matrix(1 0 0 1.05 321 167.65)" font-size="8.1"><tspan class="h1">1</tspan>5<tspan class="h1">%</tspan></text><use href="#one1" class="pc" transform="matrix(0.00396 0 0 -0.00415 321 167.65)"/><use href="#pct1" class="pc" transform="matrix(0.00396 0 0 -0.00415 330.03 167.65)"/>
</g>
<text id="t179" class="lb" transform="matrix(1 0 0 1.04 105.6 175.37)" font-size="8.1" text-anchor="end">(<tspan class="h1">1</tspan><tspan class="h1">1</tspan>) Server Checks/Cleaning</text><use href="#one1" class="lb" transform="matrix(0.00396 0 0 -0.00413 4.35 175.37)"/><use href="#one1" class="lb" transform="matrix(0.00396 0 0 -0.00413 8.87 175.37)"/>
<g clip-path="url(#cp2)">
<text id="t180" class="pc" transform="matrix(1 0 0 1.05 129.9 175.37)" font-size="8.1" text-anchor="end">52<tspan class="h1">%</tspan></text><use href="#pct1" class="pc" transform="matrix(0.00396 0 0 -0.00415 122.7 175.37)"/>
<text id="t181" class="pc" transform="matrix(1 0 0 1.05 259 175.37)" font-size="8.1" text-anchor="middle">32<tspan class="h1">%</tspan></text><use href="#pct1" class="pc" transform="matrix(0.00396 0 0 -0.00415 259.91 175.37)"/>
<text id="t182" class="pc" transform="matrix(1 0 0 1.05 321 175.37)" font-size="8.1"><tspan class="h1">1</tspan>5<tspan class="h1">%</tspan></text><use href="#one1" class="pc" transform="matrix(0.00396 0 0 -0.00415 321 175.37)"/><use href="#pct1" class="pc" transform="matrix(0.00396 0 0 -0.00415 330.03 175.37)"/>
</g>
</g>
<g transform="translate(344,158.2)">
<text id="t183" class="tt" transform="matrix(1 0 0 1.04 110.6 36.45)" font-size="11.7">Q<tspan class="h1">1</tspan>.4 Events lead to investigations</text><use href="#one1" class="tt" transform="matrix(0.00571 0 0 -0.00597 119.69 36.45)"/>
<rect x="110.6" y="44.4" width="226.7" height="131.8" fill="#fff" stroke="#A3A3A3" stroke-width="1"/>
<line x1="130.1" y1="43.8" x2="130.1" y2="176.8" stroke="#fff" stroke-width="0.6"/>
<line x1="153.54" y1="43.8" x2="153.54" y2="176.8" stroke="#fff" stroke-width="0.6"/>
<line x1="176.97" y1="43.8" x2="176.97" y2="176.8" stroke="#fff" stroke-width="0.6"/>
<line x1="200.41" y1="43.8" x2="200.41" y2="176.8" stroke="#fff" stroke-width="0.6"/>
<line x1="223.85" y1="43.8" x2="223.85" y2="176.8" stroke="#fff" stroke-width="0.6"/>
<line x1="247.29" y1="43.8" x2="247.29" y2="176.8" stroke="#fff" stroke-width="0.6"/>
<line x1="270.73" y1="43.8" x2="270.73" y2="176.8" stroke="#fff" stroke-width="0.6"/>
<line x1="294.16" y1="43.8" x2="294.16" y2="176.8" stroke="#fff" stroke-width="0.6"/>
<line x1="317.6" y1="43.8" x2="317.6" y2="176.8" stroke="#fff" stroke-width="0.6"/>
<line x1="110" y1="48.55" x2="337.9" y2="48.55" stroke="#fff" stroke-width="0.9"/>
<line x1="110" y1="56.28" x2="337.9" y2="56.28" stroke="#fff" stroke-width="0.9"/>
<line x1="110" y1="64.02" x2="337.9" y2="64.02" stroke="#fff" stroke-width="0.9"/>
<line x1="110" y1="71.75" x2="337.9" y2="71.75" stroke="#fff" stroke-width="0.9"/>
<line x1="110" y1="79.49" x2="337.9" y2="79.49" stroke="#fff" stroke-width="0.9"/>
<line x1="110" y1="87.22" x2="337.9" y2="87.22" stroke="#fff" stroke-width="0.9"/>
<line x1="110" y1="94.96" x2="337.9" y2="94.96" stroke="#fff" stroke-width="0.9"/>
<line x1="110" y1="102.69" x2="337.9" y2="102.69" stroke="#fff" stroke-width="0.9"/>
<line x1="110" y1="110.43" x2="337.9" y2="110.43" stroke="#fff" stroke-width="0.9"/>
<line x1="110" y1="118.16" x2="337.9" y2="118.16" stroke="#fff" stroke-width="0.9"/>
<line x1="110" y1="125.89" x2="337.9" y2="125.89" stroke="#fff" stroke-width="0.9"/>
<line x1="110" y1="133.63" x2="337.9" y2="133.63" stroke="#fff" stroke-width="0.9"/>
<line x1="110" y1="141.36" x2="337.9" y2="141.36" stroke="#fff" stroke-width="0.9"/>
<line x1="110" y1="149.1" x2="337.9" y2="149.1" stroke="#fff" stroke-width="0.9"/>
<line x1="110" y1="156.83" x2="337.9" y2="156.83" stroke="#fff" stroke-width="0.9"/>
<line x1="110" y1="164.57" x2="337.9" y2="164.57" stroke="#fff" stroke-width="0.9"/>
<line x1="110" y1="172.3" x2="337.9" y2="172.3" stroke="#fff" stroke-width="0.9"/>
<rect x="130.1" y="44.99" width="4.9" height="7.12" fill="#D3AE67"/>
<rect x="135" y="44.99" width="76.1" height="7.12" fill="#E6D5AA"/>
<rect x="211.1" y="44.99" width="51" height="7.12" fill="#E0E1E0"/>
<rect x="262.1" y="44.99" width="35.5" height="7.12" fill="#97CAC4"/>
<rect x="297.6" y="44.99" width="20" height="7.12" fill="#47A79B"/>
<rect x="130.1" y="52.72" width="5.2" height="7.12" fill="#D3AE67"/>
<rect x="135.3" y="52.72" width="32.2" height="7.12" fill="#E6D5AA"/>
<rect x="167.5" y="52.72" width="96.7" height="7.12" fill="#E0E1E0"/>
<rect x="264.2" y="52.72" width="26.8" height="7.12" fill="#97CAC4"/>
<rect x="291" y="52.72" width="26.6" height="7.12" fill="#47A79B"/>
<rect x="130.1" y="60.46" width="58.9" height="7.12" fill="#E6D5AA"/>
<rect x="189" y="60.46" width="80.8" height="7.12" fill="#E0E1E0"/>
<rect x="269.8" y="60.46" width="32.3" height="7.12" fill="#97CAC4"/>
<rect x="302.1" y="60.46" width="15.5" height="7.12" fill="#47A79B"/>
<rect x="130.1" y="68.19" width="9.1" height="7.12" fill="#D3AE67"/>
<rect x="139.2" y="68.19" width="84.8" height="7.12" fill="#E6D5AA"/>
<rect x="224" y="68.19" width="51.9" height="7.12" fill="#E0E1E0"/>
<rect x="275.9" y="68.19" width="28" height="7.12" fill="#97CAC4"/>
<rect x="303.9" y="68.19" width="13.7" height="7.12" fill="#47A79B"/>
<rect x="130.1" y="75.93" width="5.2" height="7.12" fill="#D3AE67"/>
<rect x="135.3" y="75.93" width="46.7" height="7.12" fill="#E6D5AA"/>
<rect x="182" y="75.93" width="94.1" height="7.12" fill="#E0E1E0"/>
<rect x="276.1" y="75.93" width="31.3" height="7.12" fill="#97CAC4"/>
<rect x="307.4" y="75.93" width="10.2" height="7.12" fill="#47A79B"/>
<rect x="130.1" y="83.66" width="78.2" height="7.12" fill="#E6D5AA"/>
<rect x="208.3" y="83.66" width="67.8" height="7.12" fill="#E0E1E0"/>
<rect x="276.1" y="83.66" width="41.5" height="7.12" fill="#97CAC4"/>
<rect x="130.1" y="91.4" width="69" height="7.12" fill="#E6D5AA"/>
<rect x="199.1" y="91.4" width="79.1" height="7.12" fill="#E0E1E0"/>
<rect x="278.2" y="91.4" width="34.8" height="7.12" fill="#97CAC4"/>
<rect x="313" y="91.4" width="4.6" height="7.12" fill="#47A79B"/>
<rect x="130.1" y="99.13" width="54.4" height="7.12" fill="#E6D5AA"/>
<rect x="184.5" y="99.13" width="93.7" height="7.12" fill="#E0E1E0"/>
<rect x="278.2" y="99.13" width="34.8" height="7.12" fill="#97CAC4"/>
<rect x="313" y="99.13" width="4.6" height="7.12" fill="#47A79B"/>
<rect x="130.1" y="106.87" width="57.7" height="7.12" fill="#E6D5AA"/>
<rect x="187.8" y="106.87" width="91.6" height="7.12" fill="#E0E1E0"/>
<rect x="279.4" y="106.87" width="33.6" height="7.12" fill="#97CAC4"/>
<rect x="313" y="106.87" width="4.6" height="7.12" fill="#47A79B"/>
<rect x="130.1" y="114.6" width="89" height="7.12" fill="#E6D5AA"/>
<rect x="219.1" y="114.6" width="65.9" height="7.12" fill="#E0E1E0"/>
<rect x="285" y="114.6" width="28" height="7.12" fill="#97CAC4"/>
<rect x="313" y="114.6" width="4.6" height="7.12" fill="#47A79B"/>
<rect x="130.1" y="122.33" width="20" height="7.12" fill="#D3AE67"/>
<rect x="150.1" y="122.33" width="66.2" height="7.12" fill="#E6D5AA"/>
<rect x="216.3" y="122.33" width="71" height="7.12" fill="#E0E1E0"/>
<rect x="287.3" y="122.33" width="20.5" height="7.12" fill="#97CAC4"/>
<rect x="307.8" y="122.33" width="9.8" height="7.12" fill="#47A79B"/>
<rect x="130.1" y="130.07" width="5.9" height="7.12" fill="#D3AE67"/>
<rect x="136" y="130.07" width="54.6" height="7.12" fill="#E6D5AA"/>
<rect x="190.6" y="130.07" width="97.2" height="7.12" fill="#E0E1E0"/>
<rect x="287.8" y="130.07" width="24.2" height="7.12" fill="#97CAC4"/>
<rect x="312" y="130.07" width="5.6" height="7.12" fill="#47A79B"/>
<rect x="130.1" y="137.8" width="5.9" height="7.12" fill="#D3AE67"/>
<rect x="136" y="137.8" width="97.1" height="7.12" fill="#E6D5AA"/>
<rect x="233.1" y="137.8" width="54.7" height="7.12" fill="#E0E1E0"/>
<rect x="287.8" y="137.8" width="29.8" height="7.12" fill="#97CAC4"/>
<rect x="130.1" y="145.54" width="4.9" height="7.12" fill="#D3AE67"/>
<rect x="135" y="145.54" width="86.2" height="7.12" fill="#E6D5AA"/>
<rect x="221.2" y="145.54" width="69.8" height="7.12" fill="#E0E1E0"/>
<rect x="291" y="145.54" width="21.6" height="7.12" fill="#97CAC4"/>
<rect x="312.6" y="145.54" width="5" height="7.12" fill="#47A79B"/>
<rect x="130.1" y="153.27" width="23.1" height="7.12" fill="#D3AE67"/>
<rect x="153.2" y="153.27" width="94.2" height="7.12" fill="#E6D5AA"/>
<rect x="247.4" y="153.27" width="51.6" height="7.12" fill="#E0E1E0"/>
<rect x="299" y="153.27" width="9.5" height="7.12" fill="#97CAC4"/>
<rect x="308.5" y="153.27" width="9.1" height="7.12" fill="#47A79B"/>
<rect x="130.1" y="161.01" width="38.5" height="7.12" fill="#D3AE67"/>
<rect x="168.6" y="161.01" width="81.6" height="7.12" fill="#E6D5AA"/>
<rect x="250.2" y="161.01" width="53" height="7.12" fill="#E0E1E0"/>
<rect x="303.2" y="161.01" width="14.4" height="7.12" fill="#97CAC4"/>
<rect x="130.1" y="168.74" width="23.8" height="7.12" fill="#D3AE67"/>
<rect x="153.9" y="168.74" width="106.1" height="7.12" fill="#E6D5AA"/>
<rect x="260" y="168.74" width="43.2" height="7.12" fill="#E0E1E0"/>
<rect x="303.2" y="168.74" width="9.8" height="7.12" fill="#97CAC4"/>
<rect x="313" y="168.74" width="4.6" height="7.12" fill="#47A79B"/>
<defs><clipPath id="cp3"><rect x="110.6" y="44.4" width="225.8" height="131.8"/></clipPath></defs>
<text class="lb" transform="matrix(1 0 0 1.04 106.1 51.85)" font-size="8.1" text-anchor="end">(4) Many Copy−Operations</text>
<g clip-path="url(#cp3)">
<text id="t184" class="pc" transform="matrix(1 0 0 1.05 129.9 51.85)" font-size="8.1" text-anchor="end">43<tspan class="h1">%</tspan></text><use href="#pct1" class="pc" transform="matrix(0.00396 0 0 -0.00415 122.7 51.85)"/>
<text id="t185" class="pc" transform="matrix(1 0 0 1.05 236.6 51.85)" font-size="8.1" text-anchor="middle">27<tspan class="h1">%</tspan></text><use href="#pct1" class="pc" transform="matrix(0.00396 0 0 -0.00415 237.51 51.85)"/>
<text id="t186" class="pc" transform="matrix(1 0 0 1.05 321 51.85)" font-size="8.1">30<tspan class="h1">%</tspan></text><use href="#pct1" class="pc" transform="matrix(0.00396 0 0 -0.00415 330.02 51.85)"/>
</g>
<text id="t187" class="lb" transform="matrix(1 0 0 1.04 106.1 59.57)" font-size="8.1" text-anchor="end">(<tspan class="h1">1</tspan>4) Software Execution</text><use href="#one1" class="lb" transform="matrix(0.00396 0 0 -0.00413 22.4 59.57)"/>
<g clip-path="url(#cp3)">
<text id="t188" class="pc" transform="matrix(1 0 0 1.05 129.9 59.57)" font-size="8.1" text-anchor="end">20<tspan class="h1">%</tspan></text><use href="#pct1" class="pc" transform="matrix(0.00396 0 0 -0.00415 122.7 59.57)"/>
<text id="t189" class="pc" transform="matrix(1 0 0 1.05 215.85 59.57)" font-size="8.1" text-anchor="middle">5<tspan class="h1">1</tspan><tspan class="h1">%</tspan></text><use href="#one1" class="pc" transform="matrix(0.00396 0 0 -0.00415 212.25 59.57)"/><use href="#pct1" class="pc" transform="matrix(0.00396 0 0 -0.00415 216.76 59.57)"/>
<text id="t190" class="pc" transform="matrix(1 0 0 1.05 321 59.57)" font-size="8.1">29<tspan class="h1">%</tspan></text><use href="#pct1" class="pc" transform="matrix(0.00396 0 0 -0.00415 330.02 59.57)"/>
</g>
<text id="t191" class="lb" transform="matrix(1 0 0 1.04 106.1 67.29)" font-size="8.1" text-anchor="end">(<tspan class="h1">1</tspan>7) Outbound Connections</text><use href="#one1" class="lb" transform="matrix(0.00396 0 0 -0.00413 9.33 67.29)"/>
<g clip-path="url(#cp3)">
<text id="t192" class="pc" transform="matrix(1 0 0 1.05 129.9 67.29)" font-size="8.1" text-anchor="end">3<tspan class="h1">1</tspan><tspan class="h1">%</tspan></text><use href="#one1" class="pc" transform="matrix(0.00396 0 0 -0.00415 118.18 67.29)"/><use href="#pct1" class="pc" transform="matrix(0.00396 0 0 -0.00415 122.7 67.29)"/>
<text id="t193" class="pc" transform="matrix(1 0 0 1.05 229.4 67.29)" font-size="8.1" text-anchor="middle">43<tspan class="h1">%</tspan></text><use href="#pct1" class="pc" transform="matrix(0.00396 0 0 -0.00415 230.31 67.29)"/>
<text id="t194" class="pc" transform="matrix(1 0 0 1.05 321 67.29)" font-size="8.1">26<tspan class="h1">%</tspan></text><use href="#pct1" class="pc" transform="matrix(0.00396 0 0 -0.00415 330.02 67.29)"/>
</g>
<text id="t195" class="lb" transform="matrix(1 0 0 1.04 106.1 75.01)" font-size="8.1" text-anchor="end">(<tspan class="h1">1</tspan>5) New Network Device</text><use href="#one1" class="lb" transform="matrix(0.00396 0 0 -0.00413 17.02 75.01)"/>
<g clip-path="url(#cp3)">
<text id="t196" class="pc" transform="matrix(1 0 0 1.05 129.9 75.01)" font-size="8.1" text-anchor="end">50<tspan class="h1">%</tspan></text><use href="#pct1" class="pc" transform="matrix(0.00396 0 0 -0.00415 122.7 75.01)"/>
<text id="t197" class="pc" transform="matrix(1 0 0 1.05 249.95 75.01)" font-size="8.1" text-anchor="middle">28<tspan class="h1">%</tspan></text><use href="#pct1" class="pc" transform="matrix(0.00396 0 0 -0.00415 250.86 75.01)"/>
<text id="t198" class="pc" transform="matrix(1 0 0 1.05 321 75.01)" font-size="8.1">22<tspan class="h1">%</tspan></text><use href="#pct1" class="pc" transform="matrix(0.00396 0 0 -0.00415 330.02 75.01)"/>
</g>
<text class="lb" transform="matrix(1 0 0 1.04 106.1 82.73)" font-size="8.1" text-anchor="end">(3) OS Configurations</text>
<g clip-path="url(#cp3)">
<text id="t199" class="pc" transform="matrix(1 0 0 1.05 129.9 82.73)" font-size="8.1" text-anchor="end">28<tspan class="h1">%</tspan></text><use href="#pct1" class="pc" transform="matrix(0.00396 0 0 -0.00415 122.7 82.73)"/>
<text id="t200" class="pc" transform="matrix(1 0 0 1.05 229.05 82.73)" font-size="8.1" text-anchor="middle">50<tspan class="h1">%</tspan></text><use href="#pct1" class="pc" transform="matrix(0.00396 0 0 -0.00415 229.96 82.73)"/>
<text id="t201" class="pc" transform="matrix(1 0 0 1.05 321 82.73)" font-size="8.1">22<tspan class="h1">%</tspan></text><use href="#pct1" class="pc" transform="matrix(0.00396 0 0 -0.00415 330.02 82.73)"/>
</g>
<text id="t202" class="lb" transform="matrix(1 0 0 1.04 106.1 90.45)" font-size="8.1" text-anchor="end">(<tspan class="h1">1</tspan>3) Inbound Connections</text><use href="#one1" class="lb" transform="matrix(0.00396 0 0 -0.00413 15.63 90.45)"/>
<g clip-path="url(#cp3)">
<text id="t203" class="pc" transform="matrix(1 0 0 1.05 129.9 90.45)" font-size="8.1" text-anchor="end">42<tspan class="h1">%</tspan></text><use href="#pct1" class="pc" transform="matrix(0.00396 0 0 -0.00415 122.7 90.45)"/>
<text id="t204" class="pc" transform="matrix(1 0 0 1.05 242.2 90.45)" font-size="8.1" text-anchor="middle">36<tspan class="h1">%</tspan></text><use href="#pct1" class="pc" transform="matrix(0.00396 0 0 -0.00415 243.11 90.45)"/>
<text id="t205" class="pc" transform="matrix(1 0 0 1.05 321 90.45)" font-size="8.1">22<tspan class="h1">%</tspan></text><use href="#pct1" class="pc" transform="matrix(0.00396 0 0 -0.00415 330.02 90.45)"/>
</g>
<text id="t206" class="lb" transform="matrix(1 0 0 1.04 106.1 98.17)" font-size="8.1" text-anchor="end">(<tspan class="h1">1</tspan>0) Server Login</text><use href="#one1" class="lb" transform="matrix(0.00396 0 0 -0.00413 46.24 98.17)"/>
<g clip-path="url(#cp3)">
<text id="t207" class="pc" transform="matrix(1 0 0 1.05 129.9 98.17)" font-size="8.1" text-anchor="end">37<tspan class="h1">%</tspan></text><use href="#pct1" class="pc" transform="matrix(0.00396 0 0 -0.00415 122.7 98.17)"/>
<text id="t208" class="pc" transform="matrix(1 0 0 1.05 238.65 98.17)" font-size="8.1" text-anchor="middle">42<tspan class="h1">%</tspan></text><use href="#pct1" class="pc" transform="matrix(0.00396 0 0 -0.00415 239.56 98.17)"/>
<text id="t209" class="pc" transform="matrix(1 0 0 1.05 321 98.17)" font-size="8.1">2<tspan class="h1">1</tspan><tspan class="h1">%</tspan></text><use href="#one1" class="pc" transform="matrix(0.00396 0 0 -0.00415 325.52 98.17)"/><use href="#pct1" class="pc" transform="matrix(0.00396 0 0 -0.00415 330.03 98.17)"/>
</g>
<text class="lb" transform="matrix(1 0 0 1.04 106.1 105.89)" font-size="8.1" text-anchor="end">(7) System Commands</text>
<g clip-path="url(#cp3)">
<text id="t210" class="pc" transform="matrix(1 0 0 1.05 129.9 105.89)" font-size="8.1" text-anchor="end">29<tspan class="h1">%</tspan></text><use href="#pct1" class="pc" transform="matrix(0.00396 0 0 -0.00415 122.7 105.89)"/>
<text id="t211" class="pc" transform="matrix(1 0 0 1.05 231.35 105.89)" font-size="8.1" text-anchor="middle">50<tspan class="h1">%</tspan></text><use href="#pct1" class="pc" transform="matrix(0.00396 0 0 -0.00415 232.26 105.89)"/>
<text id="t212" class="pc" transform="matrix(1 0 0 1.05 321 105.89)" font-size="8.1">2<tspan class="h1">1</tspan><tspan class="h1">%</tspan></text><use href="#one1" class="pc" transform="matrix(0.00396 0 0 -0.00415 325.52 105.89)"/><use href="#pct1" class="pc" transform="matrix(0.00396 0 0 -0.00415 330.03 105.89)"/>
</g>
<text class="lb" transform="matrix(1 0 0 1.04 106.1 113.61)" font-size="8.1" text-anchor="end">(5) Custom Scripts</text>
<g clip-path="url(#cp3)">
<text id="t213" class="pc" transform="matrix(1 0 0 1.05 129.9 113.61)" font-size="8.1" text-anchor="end">3<tspan class="h1">1</tspan><tspan class="h1">%</tspan></text><use href="#one1" class="pc" transform="matrix(0.00396 0 0 -0.00415 118.18 113.61)"/><use href="#pct1" class="pc" transform="matrix(0.00396 0 0 -0.00415 122.7 113.61)"/>
<text id="t214" class="pc" transform="matrix(1 0 0 1.05 233.6 113.61)" font-size="8.1" text-anchor="middle">49<tspan class="h1">%</tspan></text><use href="#pct1" class="pc" transform="matrix(0.00396 0 0 -0.00415 234.51 113.61)"/>
<text id="t215" class="pc" transform="matrix(1 0 0 1.05 321 113.61)" font-size="8.1">2<tspan class="h1">1</tspan><tspan class="h1">%</tspan></text><use href="#one1" class="pc" transform="matrix(0.00396 0 0 -0.00415 325.52 113.61)"/><use href="#pct1" class="pc" transform="matrix(0.00396 0 0 -0.00415 330.03 113.61)"/>
</g>
<text id="t216" class="lb" transform="matrix(1 0 0 1.04 106.1 121.33)" font-size="8.1" text-anchor="end">(<tspan class="h1">1</tspan>6) Failed Login</text><use href="#one1" class="lb" transform="matrix(0.00396 0 0 -0.00413 48.04 121.33)"/>
<g clip-path="url(#cp3)">
<text id="t217" class="pc" transform="matrix(1 0 0 1.05 129.9 121.33)" font-size="8.1" text-anchor="end">48<tspan class="h1">%</tspan></text><use href="#pct1" class="pc" transform="matrix(0.00396 0 0 -0.00415 122.7 121.33)"/>
<text id="t218" class="pc" transform="matrix(1 0 0 1.05 252.05 121.33)" font-size="8.1" text-anchor="middle">35<tspan class="h1">%</tspan></text><use href="#pct1" class="pc" transform="matrix(0.00396 0 0 -0.00415 252.96 121.33)"/>
<text id="t219" class="pc" transform="matrix(1 0 0 1.05 321 121.33)" font-size="8.1"><tspan class="h1">1</tspan>8<tspan class="h1">%</tspan></text><use href="#one1" class="pc" transform="matrix(0.00396 0 0 -0.00415 321 121.33)"/><use href="#pct1" class="pc" transform="matrix(0.00396 0 0 -0.00415 330.03 121.33)"/>
</g>
<text id="t220" class="lb" transform="matrix(1 0 0 1.04 106.1 129.05)" font-size="8.1" text-anchor="end">(<tspan class="h1">1</tspan>) File Permissions</text><use href="#one1" class="lb" transform="matrix(0.00396 0 0 -0.00413 37.27 129.05)"/>
<g clip-path="url(#cp3)">
<text id="t221" class="pc" transform="matrix(1 0 0 1.05 129.9 129.05)" font-size="8.1" text-anchor="end">46<tspan class="h1">%</tspan></text><use href="#pct1" class="pc" transform="matrix(0.00396 0 0 -0.00415 122.7 129.05)"/>
<text id="t222" class="pc" transform="matrix(1 0 0 1.05 251.8 129.05)" font-size="8.1" text-anchor="middle">38<tspan class="h1">%</tspan></text><use href="#pct1" class="pc" transform="matrix(0.00396 0 0 -0.00415 252.71 129.05)"/>
<text id="t223" class="pc" transform="matrix(1 0 0 1.05 321 129.05)" font-size="8.1"><tspan class="h1">1</tspan>6<tspan class="h1">%</tspan></text><use href="#one1" class="pc" transform="matrix(0.00396 0 0 -0.00415 321 129.05)"/><use href="#pct1" class="pc" transform="matrix(0.00396 0 0 -0.00415 330.03 129.05)"/>
</g>
<text class="lb" transform="matrix(1 0 0 1.04 106.1 136.77)" font-size="8.1" text-anchor="end">(2) User Privileges</text>
<g clip-path="url(#cp3)">
<text id="t224" class="pc" transform="matrix(1 0 0 1.05 129.9 136.77)" font-size="8.1" text-anchor="end">32<tspan class="h1">%</tspan></text><use href="#pct1" class="pc" transform="matrix(0.00396 0 0 -0.00415 122.7 136.77)"/>
<text id="t225" class="pc" transform="matrix(1 0 0 1.05 239.2 136.77)" font-size="8.1" text-anchor="middle">52<tspan class="h1">%</tspan></text><use href="#pct1" class="pc" transform="matrix(0.00396 0 0 -0.00415 240.11 136.77)"/>
<text id="t226" class="pc" transform="matrix(1 0 0 1.05 321 136.77)" font-size="8.1"><tspan class="h1">1</tspan>6<tspan class="h1">%</tspan></text><use href="#one1" class="pc" transform="matrix(0.00396 0 0 -0.00415 321 136.77)"/><use href="#pct1" class="pc" transform="matrix(0.00396 0 0 -0.00415 330.03 136.77)"/>
</g>
<text class="lb" transform="matrix(1 0 0 1.04 106.1 144.49)" font-size="8.1" text-anchor="end">(8) Software Installation</text>
<g clip-path="url(#cp3)">
<text id="t227" class="pc" transform="matrix(1 0 0 1.05 129.9 144.49)" font-size="8.1" text-anchor="end">55<tspan class="h1">%</tspan></text><use href="#pct1" class="pc" transform="matrix(0.00396 0 0 -0.00415 122.7 144.49)"/>
<text id="t228" class="pc" transform="matrix(1 0 0 1.05 260.45 144.49)" font-size="8.1" text-anchor="middle">29<tspan class="h1">%</tspan></text><use href="#pct1" class="pc" transform="matrix(0.00396 0 0 -0.00415 261.36 144.49)"/>
<text id="t229" class="pc" transform="matrix(1 0 0 1.05 321 144.49)" font-size="8.1"><tspan class="h1">1</tspan>6<tspan class="h1">%</tspan></text><use href="#one1" class="pc" transform="matrix(0.00396 0 0 -0.00415 321 144.49)"/><use href="#pct1" class="pc" transform="matrix(0.00396 0 0 -0.00415 330.03 144.49)"/>
</g>
<text class="lb" transform="matrix(1 0 0 1.04 106.1 152.21)" font-size="8.1" text-anchor="end">(6) Network commands</text>
<g clip-path="url(#cp3)">
<text id="t230" class="pc" transform="matrix(1 0 0 1.05 129.9 152.21)" font-size="8.1" text-anchor="end">49<tspan class="h1">%</tspan></text><use href="#pct1" class="pc" transform="matrix(0.00396 0 0 -0.00415 122.7 152.21)"/>
<text id="t231" class="pc" transform="matrix(1 0 0 1.05 256.1 152.21)" font-size="8.1" text-anchor="middle">37<tspan class="h1">%</tspan></text><use href="#pct1" class="pc" transform="matrix(0.00396 0 0 -0.00415 257.01 152.21)"/>
<text id="t232" class="pc" transform="matrix(1 0 0 1.05 321 152.21)" font-size="8.1"><tspan class="h1">1</tspan>4<tspan class="h1">%</tspan></text><use href="#one1" class="pc" transform="matrix(0.00396 0 0 -0.00415 321 152.21)"/><use href="#pct1" class="pc" transform="matrix(0.00396 0 0 -0.00415 330.03 152.21)"/>
</g>
<text class="lb" transform="matrix(1 0 0 1.04 106.1 159.93)" font-size="8.1" text-anchor="end">(9) Credential Updates</text>
<g clip-path="url(#cp3)">
<text id="t233" class="pc" transform="matrix(1 0 0 1.05 129.9 159.93)" font-size="8.1" text-anchor="end">62<tspan class="h1">%</tspan></text><use href="#pct1" class="pc" transform="matrix(0.00396 0 0 -0.00415 122.7 159.93)"/>
<text id="t234" class="pc" transform="matrix(1 0 0 1.05 273.2 159.93)" font-size="8.1" text-anchor="middle">28<tspan class="h1">%</tspan></text><use href="#pct1" class="pc" transform="matrix(0.00396 0 0 -0.00415 274.11 159.93)"/>
<text id="t235" class="pc" transform="matrix(1 0 0 1.05 321 159.93)" font-size="8.1"><tspan class="h1">1</tspan>0<tspan class="h1">%</tspan></text><use href="#one1" class="pc" transform="matrix(0.00396 0 0 -0.00415 321 159.93)"/><use href="#pct1" class="pc" transform="matrix(0.00396 0 0 -0.00415 330.03 159.93)"/>
</g>
<text id="t236" class="lb" transform="matrix(1 0 0 1.04 106.1 167.65)" font-size="8.1" text-anchor="end">(<tspan class="h1">1</tspan><tspan class="h1">1</tspan>) Server Checks/Cleaning</text><use href="#one1" class="lb" transform="matrix(0.00396 0 0 -0.00413 4.85 167.65)"/><use href="#one1" class="lb" transform="matrix(0.00396 0 0 -0.00413 9.37 167.65)"/>
<g clip-path="url(#cp3)">
<text id="t237" class="pc" transform="matrix(1 0 0 1.05 129.9 167.65)" font-size="8.1" text-anchor="end">64<tspan class="h1">%</tspan></text><use href="#pct1" class="pc" transform="matrix(0.00396 0 0 -0.00415 122.7 167.65)"/>
<text id="t238" class="pc" transform="matrix(1 0 0 1.05 276.7 167.65)" font-size="8.1" text-anchor="middle">28<tspan class="h1">%</tspan></text><use href="#pct1" class="pc" transform="matrix(0.00396 0 0 -0.00415 277.61 167.65)"/>
<text id="t239" class="pc" transform="matrix(1 0 0 1.05 321 167.65)" font-size="8.1">8<tspan class="h1">%</tspan></text><use href="#pct1" class="pc" transform="matrix(0.00396 0 0 -0.00415 325.52 167.65)"/>
</g>
<text id="t240" class="lb" transform="matrix(1 0 0 1.04 106.1 175.37)" font-size="8.1" text-anchor="end">(<tspan class="h1">1</tspan>2) Server Reboot</text><use href="#one1" class="lb" transform="matrix(0.00396 0 0 -0.00413 39.94 175.37)"/>
<g clip-path="url(#cp3)">
<text id="t241" class="pc" transform="matrix(1 0 0 1.05 129.9 175.37)" font-size="8.1" text-anchor="end">69<tspan class="h1">%</tspan></text><use href="#pct1" class="pc" transform="matrix(0.00396 0 0 -0.00415 122.7 175.37)"/>
<text id="t242" class="pc" transform="matrix(1 0 0 1.05 281.6 175.37)" font-size="8.1" text-anchor="middle">23<tspan class="h1">%</tspan></text><use href="#pct1" class="pc" transform="matrix(0.00396 0 0 -0.00415 282.51 175.37)"/>
<text id="t243" class="pc" transform="matrix(1 0 0 1.05 321 175.37)" font-size="8.1">8<tspan class="h1">%</tspan></text><use href="#pct1" class="pc" transform="matrix(0.00396 0 0 -0.00415 325.52 175.37)"/>
</g>
</g>
</svg></body></html>
